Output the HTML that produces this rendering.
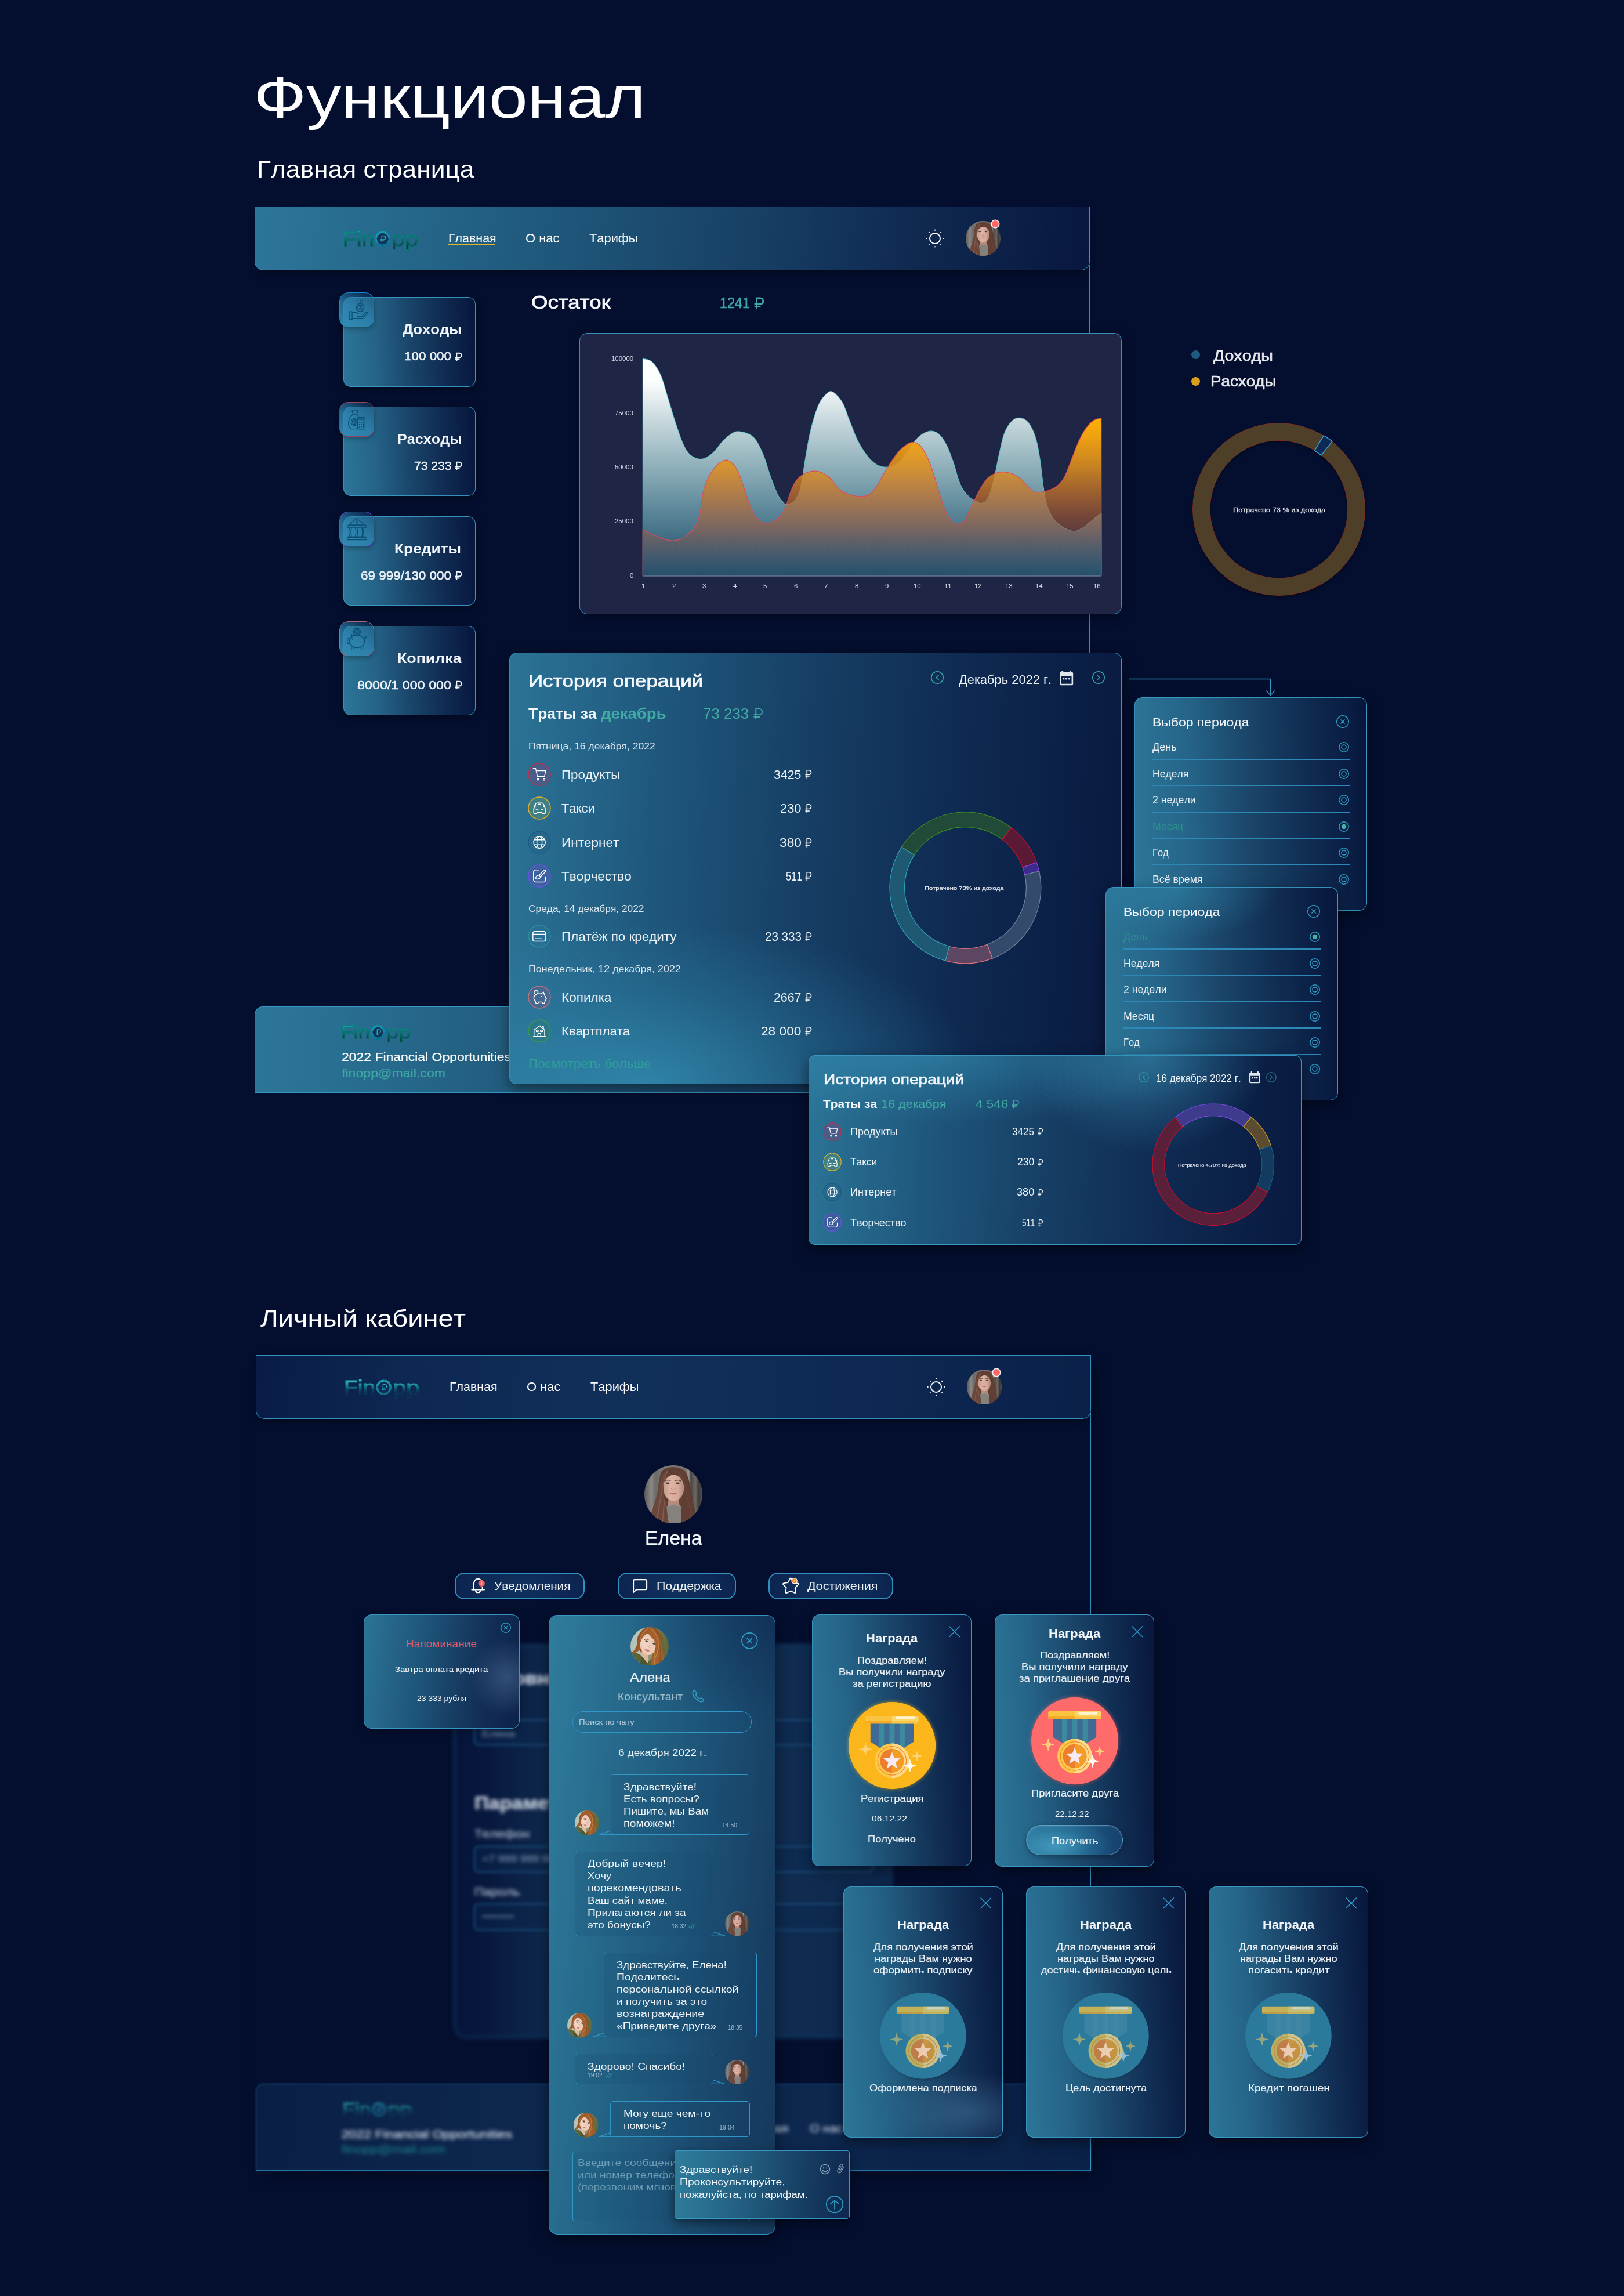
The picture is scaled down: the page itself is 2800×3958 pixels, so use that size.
<!DOCTYPE html>
<html lang="ru"><head><meta charset="utf-8"><title>FinOpp</title><style>
html,body{margin:0;padding:0}
body{background:#040f2f;font-family:"Liberation Sans",sans-serif;width:2800px;height:3958px}
#page{position:relative;width:2800px;height:3958px;overflow:hidden;background:#040f2f}
.t{position:absolute;white-space:nowrap;transform-origin:0 0;display:block;font-kerning:none;letter-spacing:0}
svg{overflow:visible}
</style></head>
<body>
<div id="page">
<span class="t" style="left:436.5px;top:116.7px;font-size:102px;line-height:102px;color:#fff;transform:scaleX(1.1773);">Функционал</span>
<span class="t" style="left:443.0px;top:272.1px;font-size:41px;line-height:41px;color:#fff;transform:scaleX(1.0809);">Главная страница</span>
<div style="position:absolute;left:439.0px;top:456.0px;width:1.0px;height:1279.0px;background:#3391bd;"></div>
<div style="position:absolute;left:1878.0px;top:456.0px;width:1.0px;height:1279.0px;background:#3391bd;"></div>
<div style="position:absolute;left:844.0px;top:456.0px;width:1.0px;height:1279.0px;background:#3391bd;"></div>
<div style="position:absolute;left:439.0px;top:1735.0px;width:1440.0px;height:149.3px;box-sizing:border-box;border:1px solid rgba(58,156,200,0.9);border-radius:14px 14px 0 0;background:linear-gradient(95deg,#2c769a 0%,#276c8f 14%,#225c7e 30%,#1a4569 55%,#102a52 80%,#08173f 100%);"></div>
<span class="t" style="left:588.4px;top:1764.0px;font-size:31.80px;line-height:31.80px;background:linear-gradient(#10a29e 14%,#0b7673 48%,#053a3c 88%);-webkit-background-clip:text;background-clip:text;color:transparent;-webkit-text-stroke:0.95px rgba(10,112,110,0.9);transform:scaleX(1.125)">Fin</span>
<span class="t" style="left:665.7px;top:1764.0px;font-size:31.80px;line-height:31.80px;background:linear-gradient(#10a29e 14%,#0b7673 48%,#053a3c 88%);-webkit-background-clip:text;background-clip:text;color:transparent;-webkit-text-stroke:0.95px rgba(10,112,110,0.9);transform:scaleX(1.205)">pp</span>
<svg style="position:absolute;left:639.0px;top:1766.8px;" width="25.1" height="25.1" viewBox="0 0 28 28"><defs><radialGradient id="cg1" cx="0.45" cy="0.3" r="0.8"><stop offset="0" stop-color="#14b2c6"/><stop offset="0.65" stop-color="#0c8aa8"/><stop offset="1" stop-color="#075c82"/></radialGradient></defs><circle cx="14.0" cy="14.0" r="13.6" fill="url(#cg1)"/><path d="M14.51,4.21L14.72,0.30" stroke="#075c82" stroke-width="0.7"/><path d="M21.28,7.44L24.20,4.82" stroke="#075c82" stroke-width="0.7"/><path d="M23.79,14.51L27.70,14.72" stroke="#075c82" stroke-width="0.7"/><path d="M20.56,21.28L23.18,24.20" stroke="#075c82" stroke-width="0.7"/><path d="M13.49,23.79L13.28,27.70" stroke="#075c82" stroke-width="0.7"/><path d="M6.72,20.56L3.80,23.18" stroke="#075c82" stroke-width="0.7"/><path d="M4.21,13.49L0.30,13.28" stroke="#075c82" stroke-width="0.7"/><path d="M7.44,6.72L4.82,3.80" stroke="#075c82" stroke-width="0.7"/><circle cx="14.0" cy="14.0" r="10.08" fill="#14325a"/><g transform="translate(10.0,8.4) scale(0.76)" fill="none" stroke="#1cb8b2" stroke-width="1.9" stroke-linejoin="round"><path d="M3.4,14.6 V0.7 H8 A4.1,4.1 0 0 1 8,8.9 H0.4"/><path d="M0.4,11.9 H8.8"/></g></svg>
<span class="t" style="left:588.6px;top:1811.6px;font-size:20.5px;line-height:20.5px;color:#fff;transform:scaleX(1.1189);-webkit-text-stroke:0.23px #fff;">2022 Financial Opportunities</span>
<span class="t" style="left:588.6px;top:1839.7px;font-size:20.5px;line-height:20.5px;color:#3fa8a4;transform:scaleX(1.1281);-webkit-text-stroke:0.23px #3fa8a4;">finopp@mail.com</span>
<div style="position:absolute;left:439.0px;top:356.0px;width:1440.0px;height:110.0px;box-sizing:border-box;border:1px solid rgba(58,156,200,0.9);border-radius:0 0 15px 15px;background:linear-gradient(97deg,#2c769a 0%,#266a8d 15%,#1f587b 35%,#184166 58%,#0f2850 80%,#08173f 100%);box-shadow:0 12px 16px -8px rgba(0,0,0,0.45);"></div>
<span class="t" style="left:590.7px;top:394.5px;font-size:34.66px;line-height:34.66px;background:linear-gradient(#10a29e 14%,#0b7673 48%,#053a3c 88%);-webkit-background-clip:text;background-clip:text;color:transparent;-webkit-text-stroke:1.04px rgba(10,112,110,0.9);transform:scaleX(1.125)">Fin</span>
<span class="t" style="left:674.9px;top:394.5px;font-size:34.66px;line-height:34.66px;background:linear-gradient(#10a29e 14%,#0b7673 48%,#053a3c 88%);-webkit-background-clip:text;background-clip:text;color:transparent;-webkit-text-stroke:1.04px rgba(10,112,110,0.9);transform:scaleX(1.205)">pp</span>
<svg style="position:absolute;left:645.9px;top:397.5px;" width="27.4" height="27.4" viewBox="0 0 28 28"><defs><radialGradient id="cg2" cx="0.45" cy="0.3" r="0.8"><stop offset="0" stop-color="#14b2c6"/><stop offset="0.65" stop-color="#0c8aa8"/><stop offset="1" stop-color="#075c82"/></radialGradient></defs><circle cx="14.0" cy="14.0" r="13.6" fill="url(#cg2)"/><path d="M14.51,4.21L14.72,0.30" stroke="#075c82" stroke-width="0.7"/><path d="M21.28,7.44L24.20,4.82" stroke="#075c82" stroke-width="0.7"/><path d="M23.79,14.51L27.70,14.72" stroke="#075c82" stroke-width="0.7"/><path d="M20.56,21.28L23.18,24.20" stroke="#075c82" stroke-width="0.7"/><path d="M13.49,23.79L13.28,27.70" stroke="#075c82" stroke-width="0.7"/><path d="M6.72,20.56L3.80,23.18" stroke="#075c82" stroke-width="0.7"/><path d="M4.21,13.49L0.30,13.28" stroke="#075c82" stroke-width="0.7"/><path d="M7.44,6.72L4.82,3.80" stroke="#075c82" stroke-width="0.7"/><circle cx="14.0" cy="14.0" r="10.08" fill="#14325a"/><g transform="translate(10.0,8.4) scale(0.76)" fill="none" stroke="#1cb8b2" stroke-width="1.9" stroke-linejoin="round"><path d="M3.4,14.6 V0.7 H8 A4.1,4.1 0 0 1 8,8.9 H0.4"/><path d="M0.4,11.9 H8.8"/></g></svg>
<span class="t" style="left:772.5px;top:400.9px;font-size:21.5px;line-height:21.5px;color:#fff;transform:scaleX(0.9959);">Главная</span>
<div style="position:absolute;left:772.5px;top:420.6px;width:81.5px;height:2.2px;background:#e8b429;"></div>
<span class="t" style="left:905.5px;top:400.9px;font-size:21.5px;line-height:21.5px;color:#fff;transform:scaleX(1.0213);">О нас</span>
<span class="t" style="left:1015.5px;top:400.9px;font-size:21.5px;line-height:21.5px;color:#fff;transform:scaleX(1.0156);">Тарифы</span>
<svg style="position:absolute;left:1592.0px;top:391.0px;" width="40.0" height="40.0" viewBox="0 0 40.0 40.0"><circle cx="20" cy="20" r="9" fill="none" stroke="#fff" stroke-width="2"/><circle cx="20.00" cy="5.70" r="1.1" fill="#fff"/><circle cx="30.11" cy="9.89" r="1.1" fill="#fff"/><circle cx="34.30" cy="20.00" r="1.1" fill="#fff"/><circle cx="30.11" cy="30.11" r="1.1" fill="#fff"/><circle cx="20.00" cy="34.30" r="1.1" fill="#fff"/><circle cx="9.89" cy="30.11" r="1.1" fill="#fff"/><circle cx="5.70" cy="20.00" r="1.1" fill="#fff"/><circle cx="9.89" cy="9.89" r="1.1" fill="#fff"/></svg>
<svg style="position:absolute;left:1665.2px;top:381.0px;" width="60.0" height="60.0" viewBox="0 0 100 100"><defs><clipPath id="cl3"><circle cx="50" cy="50" r="50"/></clipPath><linearGradient id="bg4" x1="0" x2="1"><stop offset="0" stop-color="#5d5b59"/><stop offset="0.12" stop-color="#8a8886"/><stop offset="0.2" stop-color="#6c6a68"/><stop offset="0.3" stop-color="#7b7977"/><stop offset="0.72" stop-color="#77716d"/><stop offset="0.76" stop-color="#a19e9b"/><stop offset="0.8" stop-color="#4a4644"/><stop offset="0.88" stop-color="#6b6866"/><stop offset="0.94" stop-color="#3c3937"/><stop offset="1" stop-color="#55524f"/></linearGradient><linearGradient id="fg5" x1="0" x2="1"><stop offset="0" stop-color="#c59a8b"/><stop offset="0.35" stop-color="#dcb3a4"/><stop offset="0.7" stop-color="#d6aa9b"/><stop offset="1" stop-color="#b58878"/></linearGradient><linearGradient id="hg6" x1="0" x2="1"><stop offset="0" stop-color="#7a5144"/><stop offset="0.3" stop-color="#5e3c32"/><stop offset="0.7" stop-color="#654135"/><stop offset="1" stop-color="#52322a"/></linearGradient></defs><g clip-path="url(#cl3)"><rect width="100" height="100" fill="url(#bg4)"/><path d="M30,10 C38,1 62,1 70,10 C78,20 80,45 86,72 C89,86 92,100 92,100 L8,100 C10,85 16,70 22,50 C25,35 24,20 30,10 Z" fill="url(#hg6)"/><path d="M42,56 L59,56 L61,74 L40,74 Z" fill="#b88c7d"/><path d="M37,71 C44,66.5 58,66.5 65,71 L72,100 L30,100 Z" fill="#85827e"/><path d="M41,70 C46,67.6 56,67.6 61,70" stroke="#9a9793" stroke-width="1.6" fill="none"/><ellipse cx="50.4" cy="39" rx="18" ry="22.5" fill="url(#fg5)"/><path d="M45,2.5 C36,10 33,24 33,40 C33,51 35,60 38,66 C39,78 40,90 42,100 L8,100 C13,82 20,62 24,46 C26,30 28,11 45,2.5 Z" fill="#6a463b"/><path d="M45,2.5 C58,5 66,16 68,30 C69,42 68,54 64.5,64 C64,76 63.5,90 63,100 L92,100 C88,80 82,60 78,42 C76,25 70,6 45,2.5 Z" fill="#5f3e34"/><path d="M40,10 C33,24 30,44 27,62 C25,76 22,90 20,100" stroke="#8c6152" stroke-width="1.8" fill="none" opacity="0.8"/><path d="M35,60 C33,74 32,88 31,100" stroke="#8f6455" stroke-width="1.6" fill="none" opacity="0.8"/><path d="M60,12 C68,26 72,46 76,64 C79,78 82,90 84,100" stroke="#6f463b" stroke-width="1.6" fill="none" opacity="0.8"/><ellipse cx="40.2" cy="30.8" rx="3.3" ry="1.35" fill="#4a3a36"/><ellipse cx="57.6" cy="30.8" rx="3.3" ry="1.35" fill="#4a3a36"/><path d="M35,27 C38,25.4 42,25.4 45.2,26.6" stroke="#5e4239" stroke-width="1.4" fill="none"/><path d="M52.8,26.6 C56,25.2 60,25.4 63.4,27.2" stroke="#5e4239" stroke-width="1.4" fill="none"/><path d="M46.4,39.4 C48,41.4 52,41.4 53.6,39.4" stroke="#a87868" stroke-width="1.1" fill="none"/><path d="M43.6,48.4 C46.5,47.2 53,47.2 56,48.4 C53,51 46.5,51 43.6,48.4 Z" fill="#b96c64"/></g></svg>
<div style="position:absolute;left:1709.5px;top:380.2px;width:12.2px;height:12.2px;border-radius:50%;background:#ff6969;box-shadow:0 0 0 1.6px rgba(255,255,255,0.95);"></div>
<div style="position:absolute;left:592.0px;top:512.0px;width:228.0px;height:154.6px;box-sizing:border-box;border:1px solid rgba(58,156,200,0.9);border-radius:13px;background:linear-gradient(87deg,#2c7698 0%,#256387 25%,#1a456a 50%,#102b52 75%,#07163d 100%);box-shadow:0 4px 14px rgba(0,0,0,0.4);"></div>
<div style="position:absolute;left:585.0px;top:504.0px;width:60.0px;height:60.0px;box-sizing:border-box;border:1.2px solid #1787d4;border-radius:15px;background:linear-gradient(215deg,rgba(20,70,120,0.25) 0%,rgba(45,135,180,0.75) 55%,rgba(52,140,180,0.92) 100%);box-shadow:0 3px 8px rgba(0,0,0,0.3);"></div>
<svg style="position:absolute;left:598.0px;top:514.0px;" width="40.0" height="40.0" viewBox="0 0 40 40"><g fill="none" stroke="#0c4f76" stroke-width="1.35" stroke-linecap="round" stroke-linejoin="round"><circle cx="23.1" cy="16.2" r="6.8"/><circle cx="23.1" cy="16.2" r="4.2"/><path d="M23.1,13.6 V18.8 M24.6,14.6 C23.6,13.8 21.6,14.2 21.8,15.4 C22,16.6 24.4,16 24.5,17.2 C24.6,18.4 22.4,18.6 21.5,17.8" stroke-width="0.9"/><path d="M19.4,3.4 V7.8 M23.1,2.6 V7.2 M26.8,3.4 V7.8" stroke-dasharray="1.6 1.3"/><path d="M4.2,23.1 H9.1 V36.7 H4.2 Z M10.3,24.3 H16.5 L19.4,27.3 H26.3 C28.2,27.3 28.6,29.2 27.6,30.4 L26.8,31.2 H18.4 M26.9,30.1 L34.6,23.3 L36.2,24.9 L27.3,35.2 H10.3"/></g></svg>
<span class="t" style="left:694.0px;top:557.0px;font-size:23px;line-height:23px;font-weight:bold;color:#f1f5fa;transform:scaleX(1.1179);">Доходы</span>
<svg style="position:absolute;left:783.5px;top:607.5px;" width="12.8" height="14.4" viewBox="0 0 13.4 15"><g fill="none" stroke="#f1f5fa" stroke-width="2.24" stroke-linejoin="round"><path d="M3.4,14.6 V0.7 H8 A4.1,4.1 0 0 1 8,8.9 H0.4"/><path d="M0.4,11.9 H8.8"/></g></svg>
<span class="t" style="left:697.0px;top:605.0px;font-size:19.5px;line-height:19.5px;color:#f1f5fa;transform:scaleX(1.1497);-webkit-text-stroke:0.49px #f1f5fa;">100 000</span>
<div style="position:absolute;left:592.0px;top:700.8px;width:228.0px;height:154.6px;box-sizing:border-box;border:1px solid rgba(58,156,200,0.9);border-radius:13px;background:linear-gradient(87deg,#2c7698 0%,#256387 25%,#1a456a 50%,#102b52 75%,#07163d 100%);box-shadow:0 4px 14px rgba(0,0,0,0.4);"></div>
<div style="position:absolute;left:585.0px;top:692.8px;width:60.0px;height:60.0px;box-sizing:border-box;border:1.2px solid rgba(176,58,84,0.8);border-radius:15px;background:linear-gradient(215deg,rgba(20,70,120,0.25) 0%,rgba(45,135,180,0.75) 55%,rgba(52,140,180,0.92) 100%);box-shadow:0 3px 8px rgba(0,0,0,0.3);"></div>
<svg style="position:absolute;left:598.0px;top:702.8px;" width="40.0" height="40.0" viewBox="0 0 40 40"><g fill="none" stroke="#0c4f76" stroke-width="1.35" stroke-linecap="round" stroke-linejoin="round"><path d="M9,5.6 C9.6,3.2 18.4,3.2 19,5.6 L17,11.8 H10.6 Z"/><path d="M10.6,11.8 C5.4,15 2.7,21 2.7,27 C2.7,33.4 6.4,36.9 12,36.9 C14.8,36.9 17.2,36.2 18.7,34.8 M17,11.8 C18.8,13 20.2,14.6 21,16.2"/><circle cx="13.3" cy="24.6" r="6"/><circle cx="13.3" cy="24.6" r="3.9"/><path d="M13.3,22.2 V27 M14.6,23.2 C13.8,22.5 12,22.8 12.1,23.8 C12.2,24.9 14.4,24.4 14.5,25.5 C14.6,26.5 12.8,26.8 11.9,26.1" stroke-width="0.85"/><rect x="18.7" y="16.2" width="12.6" height="20.7" rx="1.3"/><path d="M20.8,19.6 H29.2" stroke-width="2.2"/><path d="M21.6,25 h0.1 M25,25 h0.1 M28.4,25 h0.1 M21.6,29 h0.1 M25,29 h0.1 M21.6,33 h0.1 M25,33 h0.1" stroke-width="1.9"/><path d="M28.4,28.6 V33.4" stroke-width="1.7"/></g></svg>
<span class="t" style="left:685.0px;top:745.8px;font-size:23px;line-height:23px;font-weight:bold;color:#f1f5fa;transform:scaleX(1.0943);">Расходы</span>
<svg style="position:absolute;left:783.5px;top:796.3px;" width="12.8" height="14.4" viewBox="0 0 13.4 15"><g fill="none" stroke="#f1f5fa" stroke-width="2.24" stroke-linejoin="round"><path d="M3.4,14.6 V0.7 H8 A4.1,4.1 0 0 1 8,8.9 H0.4"/><path d="M0.4,11.9 H8.8"/></g></svg>
<span class="t" style="left:713.5px;top:793.8px;font-size:19.5px;line-height:19.5px;color:#f1f5fa;transform:scaleX(1.0821);-webkit-text-stroke:0.49px #f1f5fa;">73 233</span>
<div style="position:absolute;left:592.0px;top:889.8px;width:228.0px;height:154.6px;box-sizing:border-box;border:1px solid rgba(58,156,200,0.9);border-radius:13px;background:linear-gradient(87deg,#2c7698 0%,#256387 25%,#1a456a 50%,#102b52 75%,#07163d 100%);box-shadow:0 4px 14px rgba(0,0,0,0.4);"></div>
<div style="position:absolute;left:585.0px;top:881.8px;width:60.0px;height:60.0px;box-sizing:border-box;border:1.2px solid #6a4cd0;border-radius:15px;background:linear-gradient(215deg,rgba(20,70,120,0.25) 0%,rgba(45,135,180,0.75) 55%,rgba(52,140,180,0.92) 100%);box-shadow:0 3px 8px rgba(0,0,0,0.3);"></div>
<svg style="position:absolute;left:598.0px;top:891.8px;" width="40.0" height="40.0" viewBox="0 0 40 40"><g fill="none" stroke="#0c4f76" stroke-width="1.35" stroke-linecap="round" stroke-linejoin="round"><path d="M3.3,13 L17,1.6 L30.8,13 Z"/><path d="M17,4.8 V10.6 M18.4,6 C17.6,5.2 15.7,5.6 15.8,6.7 C15.9,7.9 18.2,7.4 18.3,8.6 C18.4,9.7 16.4,10 15.5,9.2" stroke-width="0.85"/><rect x="0.9" y="13.6" width="32.3" height="4.2" rx="0.8"/><path d="M4.6,17.8 C5.6,22 5.6,29 4.6,33.1 M8,17.8 C7,22 7,29 8,33.1 M14.6,17.8 C15.8,22 15.8,29 14.6,33.1 M19.5,17.8 C18.3,22 18.3,29 19.5,33.1 M26,17.8 C27,22 27,29 26,33.1 M29.6,17.8 C28.6,22 28.6,29 29.6,33.1"/><path d="M2.1,33.1 H32 V34.9 H2.1 Z"/><rect x="0.3" y="34.9" width="33.5" height="3.7" rx="0.8"/></g></svg>
<span class="t" style="left:680.0px;top:934.8px;font-size:23px;line-height:23px;font-weight:bold;color:#f1f5fa;transform:scaleX(1.1440);">Кредиты</span>
<svg style="position:absolute;left:783.5px;top:985.3px;" width="12.8" height="14.4" viewBox="0 0 13.4 15"><g fill="none" stroke="#f1f5fa" stroke-width="2.24" stroke-linejoin="round"><path d="M3.4,14.6 V0.7 H8 A4.1,4.1 0 0 1 8,8.9 H0.4"/><path d="M0.4,11.9 H8.8"/></g></svg>
<span class="t" style="left:622.0px;top:982.8px;font-size:19.5px;line-height:19.5px;color:#f1f5fa;transform:scaleX(1.1512);-webkit-text-stroke:0.49px #f1f5fa;">69 999/130 000</span>
<div style="position:absolute;left:592.0px;top:1078.8px;width:228.0px;height:154.6px;box-sizing:border-box;border:1px solid rgba(58,156,200,0.9);border-radius:13px;background:linear-gradient(87deg,#2c7698 0%,#256387 25%,#1a456a 50%,#102b52 75%,#07163d 100%);box-shadow:0 4px 14px rgba(0,0,0,0.4);"></div>
<div style="position:absolute;left:585.0px;top:1070.8px;width:60.0px;height:60.0px;box-sizing:border-box;border:1.2px solid #a8687c;border-radius:15px;background:linear-gradient(215deg,rgba(20,70,120,0.25) 0%,rgba(45,135,180,0.75) 55%,rgba(52,140,180,0.92) 100%);box-shadow:0 3px 8px rgba(0,0,0,0.3);"></div>
<svg style="position:absolute;left:598.0px;top:1080.8px;" width="40.0" height="40.0" viewBox="0 0 40 40"><g fill="none" stroke="#0c4f76" stroke-width="1.35" stroke-linecap="round" stroke-linejoin="round"><circle cx="17.4" cy="8.1" r="6.1"/><circle cx="17.4" cy="8.1" r="3.9"/><path d="M17.4,5.8 V10.4 M18.6,6.8 C17.9,6.1 16.2,6.4 16.3,7.4 C16.4,8.4 18.4,8 18.5,9 C18.6,10 16.9,10.2 16.1,9.6" stroke-width="0.8"/><ellipse cx="17.7" cy="24.6" rx="13.1" ry="10.9"/><path d="M13,14.6 H22" stroke-width="1.8"/><path d="M4.9,19.8 H1.6 C0.9,19.8 0.9,20.4 0.9,21 V27 C0.9,27.8 1.2,28.2 1.9,28.2 H5.4"/><path d="M7.2,16.8 L8.8,12.6 L12,14.6"/><path d="M30.2,20.6 C32,19.6 33.4,18.2 33,16 M31.2,19.6 C32,18 31.8,16.8 31,16"/><circle cx="9.6" cy="20.6" r="0.55" fill="#0c4f76"/><path d="M8,33.6 V38.4 M11.6,35 L10.6,38.4 M24,35 L25,38.4 M27.6,33.6 V38.4"/></g></svg>
<span class="t" style="left:684.5px;top:1123.8px;font-size:23px;line-height:23px;font-weight:bold;color:#f1f5fa;transform:scaleX(1.1628);">Копилка</span>
<svg style="position:absolute;left:783.5px;top:1174.3px;" width="12.8" height="14.4" viewBox="0 0 13.4 15"><g fill="none" stroke="#f1f5fa" stroke-width="2.24" stroke-linejoin="round"><path d="M3.4,14.6 V0.7 H8 A4.1,4.1 0 0 1 8,8.9 H0.4"/><path d="M0.4,11.9 H8.8"/></g></svg>
<span class="t" style="left:616.0px;top:1171.8px;font-size:19.5px;line-height:19.5px;color:#f1f5fa;transform:scaleX(1.1955);-webkit-text-stroke:0.49px #f1f5fa;">8000/1 000 000</span>
<span class="t" style="left:915.5px;top:504.7px;font-size:32px;line-height:32px;color:#f4f6fa;transform:scaleX(1.1404);-webkit-text-stroke:0.80px #f4f6fa;">Остаток</span>
<svg style="position:absolute;left:1299.6px;top:512.8px;" width="17.5" height="19.5" viewBox="0 0 13.4 15"><g fill="none" stroke="#3fa8a4" stroke-width="2.24" stroke-linejoin="round"><path d="M3.4,14.6 V0.7 H8 A4.1,4.1 0 0 1 8,8.9 H0.4"/><path d="M0.4,11.9 H8.8"/></g></svg>
<span class="t" style="left:1241.0px;top:509.4px;font-size:26.5px;line-height:26.5px;color:#3fa8a4;transform:scaleX(0.8833);-webkit-text-stroke:0.66px #3fa8a4;">1241</span>
<div style="position:absolute;left:999.4px;top:574.4px;width:934.3px;height:484.2px;box-sizing:border-box;border:1px solid rgba(58,156,200,0.9);border-radius:14px;background:#1e2545;box-shadow:0 6px 18px rgba(0,0,0,0.35);"></div>
<svg style="position:absolute;left:999.4px;top:574.4px;" width="934.3" height="484.2" viewBox="0 0 934.3 484.2"><defs><linearGradient id="gb" x1="0" y1="44.6" x2="0" y2="418.4" gradientUnits="userSpaceOnUse"><stop offset="0" stop-color="#ffffff"/><stop offset="0.1" stop-color="#fdfefe"/><stop offset="0.3" stop-color="#c3d5da"/><stop offset="0.5" stop-color="#8eafb9"/><stop offset="0.7" stop-color="#5c8799"/><stop offset="0.85" stop-color="#3b6880"/><stop offset="1" stop-color="#24506c"/></linearGradient><linearGradient id="go" x1="0" y1="146.6" x2="0" y2="418.4" gradientUnits="userSpaceOnUse"><stop offset="0" stop-color="#ffb000" stop-opacity="1"/><stop offset="0.12" stop-color="#f5a510" stop-opacity="0.97"/><stop offset="0.3" stop-color="#e0901c" stop-opacity="0.88"/><stop offset="0.5" stop-color="#c4702a" stop-opacity="0.72"/><stop offset="0.7" stop-color="#a85535" stop-opacity="0.5"/><stop offset="0.88" stop-color="#8a4640" stop-opacity="0.2"/><stop offset="1" stop-color="#7a4045" stop-opacity="0"/></linearGradient></defs><path d="M109.3,418.4L109.3,44.6C111.0,44.9 116.1,45.0 119.4,46.5C122.6,48.0 125.1,48.6 128.8,53.4C132.5,58.2 137.2,64.9 141.4,75.4C145.5,85.9 149.7,102.6 153.9,116.2C158.1,129.8 162.3,144.5 166.5,157.1C170.7,169.6 174.9,182.7 179.0,191.6C183.2,200.5 186.4,206.2 191.6,210.4C196.8,214.7 204.2,217.9 210.4,217.4C216.7,216.8 223.0,212.6 229.3,207.3C235.6,202.0 242.4,191.1 248.1,185.3C253.9,179.6 259.4,175.3 263.8,172.8C268.3,170.2 270.1,169.7 274.8,169.9C279.5,170.2 287.1,171.8 292.1,174.3C297.1,176.9 300.5,179.3 304.7,185.3C308.9,191.3 313.0,200.0 317.2,210.4C321.4,220.9 325.6,236.6 329.8,248.1C334.0,259.7 338.7,272.2 342.4,279.5C346.0,286.9 349.4,289.5 351.8,292.1C354.1,294.7 353.9,295.2 356.5,295.2C359.1,295.2 364.1,294.7 367.5,292.1C370.9,289.5 374.3,285.3 376.9,279.5C379.5,273.8 381.1,268.0 383.2,257.6C385.3,247.1 386.9,231.9 389.5,216.7C392.1,201.6 395.2,181.7 398.9,166.5C402.6,151.3 407.3,135.6 411.5,125.7C415.6,115.7 419.9,110.9 424.0,106.8C428.1,102.7 431.1,99.1 436.0,101.2C440.8,103.2 448.2,111.1 453.2,119.4C458.1,127.6 461.5,140.3 465.7,150.8C469.9,161.2 474.1,173.3 478.3,182.2C482.5,191.1 486.7,197.9 490.9,204.2C495.0,210.4 499.2,215.8 503.4,219.9C507.6,224.0 511.8,226.8 516.0,228.7C520.2,230.5 524.4,231.2 528.5,231.2C532.7,231.2 536.9,230.5 541.1,228.7C545.3,226.8 549.5,224.0 553.7,219.9C557.9,215.8 562.0,209.9 566.2,204.2C570.4,198.4 574.6,190.3 578.8,185.3C583.0,180.4 586.8,177.1 591.4,174.3C595.9,171.6 601.4,169.0 606.1,169.0C610.8,169.0 615.3,170.6 619.6,174.3C624.0,178.1 628.0,183.5 632.2,191.6C636.4,199.7 641.1,212.5 644.7,223.0C648.4,233.5 651.0,246.0 654.2,254.4C657.3,262.8 659.9,268.0 663.6,273.3C667.3,278.5 672.0,282.6 676.2,285.8C680.3,289.1 685.8,291.5 688.7,292.7C691.6,294.0 691.3,294.0 693.4,293.4C695.5,292.7 698.7,292.3 701.3,289.0C703.9,285.6 706.5,281.1 709.1,273.3C711.7,265.4 714.6,252.3 717.0,241.9C719.3,231.4 720.6,222.0 723.3,210.4C725.9,198.9 729.0,182.4 732.7,172.8C736.3,163.1 740.9,156.7 745.2,152.3C749.6,147.9 754.0,146.1 758.8,146.4C763.5,146.6 769.0,148.5 773.5,153.9C778.1,159.4 782.7,168.6 786.1,179.0C789.5,189.5 791.6,202.1 793.9,216.7C796.3,231.4 798.1,253.4 800.2,267.0C802.3,280.6 803.6,289.5 806.5,298.4C809.4,307.3 813.0,314.4 817.5,320.4C821.9,326.4 827.4,330.9 833.2,334.5C838.9,338.1 846.3,341.5 852.0,341.7C857.8,342.0 862.5,339.1 867.7,336.1C873.0,333.0 878.1,327.8 883.4,323.5C888.8,319.2 897.1,312.5 899.8,310.3L899.8,418.4Z" fill="url(#gb)"/><path d="M109.3,418.4L109.3,44.6C111.0,44.9 116.1,45.0 119.4,46.5C122.6,48.0 125.1,48.6 128.8,53.4C132.5,58.2 137.2,64.9 141.4,75.4C145.5,85.9 149.7,102.6 153.9,116.2C158.1,129.8 162.3,144.5 166.5,157.1C170.7,169.6 174.9,182.7 179.0,191.6C183.2,200.5 186.4,206.2 191.6,210.4C196.8,214.7 204.2,217.9 210.4,217.4C216.7,216.8 223.0,212.6 229.3,207.3C235.6,202.0 242.4,191.1 248.1,185.3C253.9,179.6 259.4,175.3 263.8,172.8C268.3,170.2 270.1,169.7 274.8,169.9C279.5,170.2 287.1,171.8 292.1,174.3C297.1,176.9 300.5,179.3 304.7,185.3C308.9,191.3 313.0,200.0 317.2,210.4C321.4,220.9 325.6,236.6 329.8,248.1C334.0,259.7 338.7,272.2 342.4,279.5C346.0,286.9 349.4,289.5 351.8,292.1C354.1,294.7 353.9,295.2 356.5,295.2C359.1,295.2 364.1,294.7 367.5,292.1C370.9,289.5 374.3,285.3 376.9,279.5C379.5,273.8 381.1,268.0 383.2,257.6C385.3,247.1 386.9,231.9 389.5,216.7C392.1,201.6 395.2,181.7 398.9,166.5C402.6,151.3 407.3,135.6 411.5,125.7C415.6,115.7 419.9,110.9 424.0,106.8C428.1,102.7 431.1,99.1 436.0,101.2C440.8,103.2 448.2,111.1 453.2,119.4C458.1,127.6 461.5,140.3 465.7,150.8C469.9,161.2 474.1,173.3 478.3,182.2C482.5,191.1 486.7,197.9 490.9,204.2C495.0,210.4 499.2,215.8 503.4,219.9C507.6,224.0 511.8,226.8 516.0,228.7C520.2,230.5 524.4,231.2 528.5,231.2C532.7,231.2 536.9,230.5 541.1,228.7C545.3,226.8 549.5,224.0 553.7,219.9C557.9,215.8 562.0,209.9 566.2,204.2C570.4,198.4 574.6,190.3 578.8,185.3C583.0,180.4 586.8,177.1 591.4,174.3C595.9,171.6 601.4,169.0 606.1,169.0C610.8,169.0 615.3,170.6 619.6,174.3C624.0,178.1 628.0,183.5 632.2,191.6C636.4,199.7 641.1,212.5 644.7,223.0C648.4,233.5 651.0,246.0 654.2,254.4C657.3,262.8 659.9,268.0 663.6,273.3C667.3,278.5 672.0,282.6 676.2,285.8C680.3,289.1 685.8,291.5 688.7,292.7C691.6,294.0 691.3,294.0 693.4,293.4C695.5,292.7 698.7,292.3 701.3,289.0C703.9,285.6 706.5,281.1 709.1,273.3C711.7,265.4 714.6,252.3 717.0,241.9C719.3,231.4 720.6,222.0 723.3,210.4C725.9,198.9 729.0,182.4 732.7,172.8C736.3,163.1 740.9,156.7 745.2,152.3C749.6,147.9 754.0,146.1 758.8,146.4C763.5,146.6 769.0,148.5 773.5,153.9C778.1,159.4 782.7,168.6 786.1,179.0C789.5,189.5 791.6,202.1 793.9,216.7C796.3,231.4 798.1,253.4 800.2,267.0C802.3,280.6 803.6,289.5 806.5,298.4C809.4,307.3 813.0,314.4 817.5,320.4C821.9,326.4 827.4,330.9 833.2,334.5C838.9,338.1 846.3,341.5 852.0,341.7C857.8,342.0 862.5,339.1 867.7,336.1C873.0,333.0 878.1,327.8 883.4,323.5C888.8,319.2 897.1,312.5 899.8,310.3L899.8,418.4" fill="none" stroke="#57c4c6" stroke-width="1"/><path d="M109.3,418.4L109.3,339.2C112.5,340.8 122.4,345.9 128.8,348.6C135.2,351.4 142.4,354.3 147.6,355.9C152.9,357.4 156.0,358.1 160.2,358.1C164.4,358.1 168.6,357.4 172.8,355.9C176.9,354.3 181.1,351.9 185.3,348.6C189.5,345.3 194.2,341.8 197.9,336.1C201.6,330.3 204.7,324.6 207.3,314.1C209.9,303.6 211.0,284.3 213.6,273.3C216.2,262.3 219.3,255.5 223.0,248.1C226.7,240.8 230.9,234.1 235.6,229.3C240.3,224.5 246.6,220.0 251.3,219.2C256.0,218.5 260.2,221.3 263.8,224.6C267.5,227.8 270.1,232.2 273.3,238.7C276.4,245.3 279.5,254.9 282.7,263.8C285.8,272.7 289.0,283.7 292.1,292.1C295.2,300.5 298.4,308.8 301.5,314.1C304.7,319.4 307.5,321.8 311.0,324.1C314.4,326.5 317.8,328.2 321.9,328.2C326.1,328.2 332.2,326.0 336.1,324.1C340.0,322.3 342.4,321.0 345.5,317.2C348.6,313.5 351.8,308.9 354.9,301.5C358.1,294.2 361.2,281.1 364.3,273.3C367.5,265.4 370.1,259.4 373.8,254.4C377.4,249.4 381.2,246.1 386.3,243.4C391.5,240.7 398.8,238.3 404.5,238.1C410.3,237.8 416.1,239.7 420.9,241.9C425.7,244.1 430.2,248.0 433.4,251.3C436.7,254.5 437.3,257.7 440.6,261.3C443.9,265.0 448.5,270.2 453.2,273.3C457.9,276.3 463.4,278.1 468.9,279.5C474.4,281.0 480.9,282.0 486.1,281.7C491.4,281.5 495.8,281.0 500.3,278.0C504.7,275.0 508.6,269.9 512.8,263.8C517.0,257.8 521.2,248.9 525.4,241.9C529.6,234.8 533.8,227.7 538.0,221.4C542.1,215.2 546.3,208.9 550.5,204.2C554.7,199.5 559.0,195.8 563.1,193.2C567.2,190.6 570.8,188.2 575.0,188.5C579.2,188.7 583.9,190.0 588.2,194.7C592.5,199.5 597.1,208.9 600.8,216.7C604.4,224.6 607.1,232.4 610.2,241.9C613.3,251.3 616.5,263.3 619.6,273.3C622.8,283.2 625.9,293.7 629.0,301.5C632.2,309.4 634.5,315.6 638.5,320.4C642.4,325.1 648.4,329.6 652.6,330.1C656.8,330.6 660.2,327.8 663.6,323.5C667.0,319.3 669.9,311.0 673.0,304.7C676.2,298.4 679.3,292.1 682.4,285.8C685.6,279.5 688.2,273.0 691.9,267.0C695.5,261.0 700.2,253.9 704.4,249.7C708.6,245.5 712.5,243.5 717.0,241.9C721.4,240.2 725.9,239.4 731.1,239.7C736.3,239.9 743.4,241.5 748.4,243.4C753.4,245.4 756.8,247.6 761.0,251.3C765.1,254.9 769.9,261.7 773.5,265.4C777.2,269.1 779.8,271.7 782.9,273.3C786.1,274.8 788.2,275.1 792.4,274.8C796.5,274.6 802.8,273.5 808.1,271.7C813.3,269.9 819.1,267.8 823.8,263.8C828.5,259.9 832.1,256.0 836.3,248.1C840.5,240.3 844.7,227.2 848.9,216.7C853.1,206.3 857.3,194.2 861.5,185.3C865.6,176.4 869.8,169.1 874.0,163.3C878.2,157.6 882.3,153.6 886.6,150.8C890.9,148.0 897.6,147.4 899.8,146.7L899.8,418.4Z" fill="url(#go)"/><path d="M109.3,418.4L109.3,339.2C112.5,340.8 122.4,345.9 128.8,348.6C135.2,351.4 142.4,354.3 147.6,355.9C152.9,357.4 156.0,358.1 160.2,358.1C164.4,358.1 168.6,357.4 172.8,355.9C176.9,354.3 181.1,351.9 185.3,348.6C189.5,345.3 194.2,341.8 197.9,336.1C201.6,330.3 204.7,324.6 207.3,314.1C209.9,303.6 211.0,284.3 213.6,273.3C216.2,262.3 219.3,255.5 223.0,248.1C226.7,240.8 230.9,234.1 235.6,229.3C240.3,224.5 246.6,220.0 251.3,219.2C256.0,218.5 260.2,221.3 263.8,224.6C267.5,227.8 270.1,232.2 273.3,238.7C276.4,245.3 279.5,254.9 282.7,263.8C285.8,272.7 289.0,283.7 292.1,292.1C295.2,300.5 298.4,308.8 301.5,314.1C304.7,319.4 307.5,321.8 311.0,324.1C314.4,326.5 317.8,328.2 321.9,328.2C326.1,328.2 332.2,326.0 336.1,324.1C340.0,322.3 342.4,321.0 345.5,317.2C348.6,313.5 351.8,308.9 354.9,301.5C358.1,294.2 361.2,281.1 364.3,273.3C367.5,265.4 370.1,259.4 373.8,254.4C377.4,249.4 381.2,246.1 386.3,243.4C391.5,240.7 398.8,238.3 404.5,238.1C410.3,237.8 416.1,239.7 420.9,241.9C425.7,244.1 430.2,248.0 433.4,251.3C436.7,254.5 437.3,257.7 440.6,261.3C443.9,265.0 448.5,270.2 453.2,273.3C457.9,276.3 463.4,278.1 468.9,279.5C474.4,281.0 480.9,282.0 486.1,281.7C491.4,281.5 495.8,281.0 500.3,278.0C504.7,275.0 508.6,269.9 512.8,263.8C517.0,257.8 521.2,248.9 525.4,241.9C529.6,234.8 533.8,227.7 538.0,221.4C542.1,215.2 546.3,208.9 550.5,204.2C554.7,199.5 559.0,195.8 563.1,193.2C567.2,190.6 570.8,188.2 575.0,188.5C579.2,188.7 583.9,190.0 588.2,194.7C592.5,199.5 597.1,208.9 600.8,216.7C604.4,224.6 607.1,232.4 610.2,241.9C613.3,251.3 616.5,263.3 619.6,273.3C622.8,283.2 625.9,293.7 629.0,301.5C632.2,309.4 634.5,315.6 638.5,320.4C642.4,325.1 648.4,329.6 652.6,330.1C656.8,330.6 660.2,327.8 663.6,323.5C667.0,319.3 669.9,311.0 673.0,304.7C676.2,298.4 679.3,292.1 682.4,285.8C685.6,279.5 688.2,273.0 691.9,267.0C695.5,261.0 700.2,253.9 704.4,249.7C708.6,245.5 712.5,243.5 717.0,241.9C721.4,240.2 725.9,239.4 731.1,239.7C736.3,239.9 743.4,241.5 748.4,243.4C753.4,245.4 756.8,247.6 761.0,251.3C765.1,254.9 769.9,261.7 773.5,265.4C777.2,269.1 779.8,271.7 782.9,273.3C786.1,274.8 788.2,275.1 792.4,274.8C796.5,274.6 802.8,273.5 808.1,271.7C813.3,269.9 819.1,267.8 823.8,263.8C828.5,259.9 832.1,256.0 836.3,248.1C840.5,240.3 844.7,227.2 848.9,216.7C853.1,206.3 857.3,194.2 861.5,185.3C865.6,176.4 869.8,169.1 874.0,163.3C878.2,157.6 882.3,153.6 886.6,150.8C890.9,148.0 897.6,147.4 899.8,146.7L899.8,418.4" fill="none" stroke="#e0475c" stroke-width="1.1"/><path d="M109.3,419.0H899.8" stroke="#8d9bb8" stroke-width="1"/></svg>
<span class="t" style="left:1085.6px;top:986.9px;font-size:11px;line-height:11px;color:#d7dbe6;transform:scaleX(1.0400);">0</span>
<span class="t" style="left:1060.2px;top:893.4px;font-size:11px;line-height:11px;color:#d7dbe6;transform:scaleX(1.0400);">25000</span>
<span class="t" style="left:1060.2px;top:800.0px;font-size:11px;line-height:11px;color:#d7dbe6;transform:scaleX(1.0400);">50000</span>
<span class="t" style="left:1060.2px;top:706.5px;font-size:11px;line-height:11px;color:#d7dbe6;transform:scaleX(1.0400);">75000</span>
<span class="t" style="left:1053.8px;top:613.1px;font-size:11px;line-height:11px;color:#d7dbe6;transform:scaleX(1.0400);">100000</span>
<span class="t" style="left:1106.1px;top:1004.7px;font-size:11px;line-height:11px;color:#d7dbe6;transform:scaleX(1.0400);">1</span>
<span class="t" style="left:1158.6px;top:1004.7px;font-size:11px;line-height:11px;color:#d7dbe6;transform:scaleX(1.0400);">2</span>
<span class="t" style="left:1211.1px;top:1004.7px;font-size:11px;line-height:11px;color:#d7dbe6;transform:scaleX(1.0400);">3</span>
<span class="t" style="left:1263.6px;top:1004.7px;font-size:11px;line-height:11px;color:#d7dbe6;transform:scaleX(1.0400);">4</span>
<span class="t" style="left:1316.1px;top:1004.7px;font-size:11px;line-height:11px;color:#d7dbe6;transform:scaleX(1.0400);">5</span>
<span class="t" style="left:1368.6px;top:1004.7px;font-size:11px;line-height:11px;color:#d7dbe6;transform:scaleX(1.0400);">6</span>
<span class="t" style="left:1421.1px;top:1004.7px;font-size:11px;line-height:11px;color:#d7dbe6;transform:scaleX(1.0400);">7</span>
<span class="t" style="left:1473.6px;top:1004.7px;font-size:11px;line-height:11px;color:#d7dbe6;transform:scaleX(1.0400);">8</span>
<span class="t" style="left:1526.1px;top:1004.7px;font-size:11px;line-height:11px;color:#d7dbe6;transform:scaleX(1.0400);">9</span>
<span class="t" style="left:1575.4px;top:1004.7px;font-size:11px;line-height:11px;color:#d7dbe6;transform:scaleX(1.0400);">10</span>
<span class="t" style="left:1628.4px;top:1004.7px;font-size:11px;line-height:11px;color:#d7dbe6;transform:scaleX(1.0400);">11</span>
<span class="t" style="left:1680.4px;top:1004.7px;font-size:11px;line-height:11px;color:#d7dbe6;transform:scaleX(1.0400);">12</span>
<span class="t" style="left:1732.9px;top:1004.7px;font-size:11px;line-height:11px;color:#d7dbe6;transform:scaleX(1.0400);">13</span>
<span class="t" style="left:1785.4px;top:1004.7px;font-size:11px;line-height:11px;color:#d7dbe6;transform:scaleX(1.0400);">14</span>
<span class="t" style="left:1837.9px;top:1004.7px;font-size:11px;line-height:11px;color:#d7dbe6;transform:scaleX(1.0400);">15</span>
<span class="t" style="left:1884.9px;top:1004.7px;font-size:11px;line-height:11px;color:#d7dbe6;transform:scaleX(1.0400);">16</span>
<div style="position:absolute;left:2053.7px;top:604.1px;width:15.4px;height:15.4px;border-radius:50%;background:#1f5b80;"></div>
<span class="t" style="left:2091.5px;top:600.6px;font-size:25px;line-height:25px;color:#e9e9ee;transform:scaleX(1.1465);-webkit-text-stroke:0.62px #e9e9ee;">Доходы</span>
<div style="position:absolute;left:2053.7px;top:649.7px;width:15.4px;height:15.4px;border-radius:50%;background:#d9a01e;"></div>
<span class="t" style="left:2086.5px;top:645.2px;font-size:25px;line-height:25px;color:#e9e9ee;transform:scaleX(1.1108);-webkit-text-stroke:0.62px #e9e9ee;">Расходы</span>
<svg style="position:absolute;left:2045.3px;top:718.4px;" width="320.0" height="320.0" viewBox="0 0 320.0 320.0"><defs><filter id="dsh" x="-20%" y="-20%" width="140%" height="140%"><feGaussianBlur stdDeviation="3"/></filter></defs><circle cx="160.0" cy="164.0" r="133.6" fill="none" stroke="#000" stroke-opacity="0.35" stroke-width="29.6" filter="url(#dsh)"/><circle cx="160.0" cy="160.0" r="133.6" fill="none" stroke="#4e3f28" stroke-width="29.6"/><circle cx="160.0" cy="160.0" r="148.4" fill="none" stroke="#7d2f22" stroke-width="1"/><circle cx="160.0" cy="160.0" r="118.8" fill="none" stroke="#7d2f22" stroke-width="1"/><path d="M237.36,32.77A148.9,148.9 0 0 1 251.88,42.83L233.00,66.91A118.3,118.3 0 0 0 221.46,58.92Z" fill="#0f2a57" stroke="#35a5dc" stroke-width="1.4"/></svg>
<span class="t" style="left:2126.4px;top:874.0px;font-size:11.5px;line-height:11.5px;color:#e3e4ea;transform:scaleX(1.1087);-webkit-text-stroke:0.29px #e3e4ea;">Потрачено 73 % из дохода</span>
<div style="position:absolute;left:877.7px;top:1124.8px;width:1056.0px;height:744.0px;box-sizing:border-box;border:1px solid rgba(58,156,200,0.9);border-radius:13px;background:radial-gradient(ellipse 55% 38% at 22% 100%,rgba(52,146,182,0.75) 0%,rgba(46,132,170,0.35) 55%,rgba(40,120,160,0) 100%),linear-gradient(93deg,#2b7496 0%,#25668a 12%,#1f567b 25%,#1a496e 38%,#163d63 50%,#0e2850 75%,#09193f 100%);box-shadow:0 8px 24px rgba(0,0,0,0.45);"></div>
<span class="t" style="left:911.4px;top:1158.7px;font-size:29.6px;line-height:29.6px;color:#f3f6fa;transform:scaleX(1.1808);-webkit-text-stroke:0.74px #f3f6fa;">История операций</span>
<span class="t" style="left:910.7px;top:1218.0px;font-size:25.5px;line-height:25.5px;font-weight:bold;color:#f3f6fa;transform:scaleX(1.0362);">Траты за</span>
<span class="t" style="left:1035.7px;top:1218.0px;font-size:25.5px;line-height:25.5px;font-weight:bold;color:#41aaa4;transform:scaleX(1.0794);">декабрь</span>
<svg style="position:absolute;left:1299.2px;top:1221.3px;" width="16.8" height="18.8" viewBox="0 0 13.4 15"><g fill="none" stroke="#41aaa4" stroke-width="1.54" stroke-linejoin="round"><path d="M3.4,14.6 V0.7 H8 A4.1,4.1 0 0 1 8,8.9 H0.4"/><path d="M0.4,11.9 H8.8"/></g></svg>
<span class="t" style="left:1212.0px;top:1218.0px;font-size:25.5px;line-height:25.5px;color:#41aaa4;transform:scaleX(1.0156);">73 233</span>
<span class="t" style="left:910.7px;top:1277.9px;font-size:17px;line-height:17px;color:#dbe6ef;transform:scaleX(1.0307);">Пятница, 16 декабря, 2022</span>
<span class="t" style="left:910.7px;top:1557.8px;font-size:17px;line-height:17px;color:#dbe6ef;transform:scaleX(1.0201);">Среда, 14 декабря, 2022</span>
<span class="t" style="left:910.7px;top:1662.1px;font-size:17px;line-height:17px;color:#dbe6ef;transform:scaleX(1.0512);">Понедельник, 12 декабря, 2022</span>
<svg style="position:absolute;left:910.0px;top:1314.6px;" width="40.0" height="40.0" viewBox="0 0 40 40"><circle cx="20" cy="20" r="19" fill="#4a5d88" stroke="#b8324e" stroke-width="1.5"/><g fill="none" stroke="#fff" stroke-width="1.45" stroke-linecap="round" stroke-linejoin="round"><path d="M9.3,9.8 H13.5 L16.6,23.7 H28.8 L30.8,13.5 H14.5"/><circle cx="17.3" cy="28.6" r="1.3"/><circle cx="28" cy="28.6" r="1.3"/></g></svg>
<span class="t" style="left:968.3px;top:1324.6px;font-size:22.0px;line-height:22.0px;color:#eef3f8;transform:scaleX(1.0161);">Продукты</span>
<svg style="position:absolute;left:1388.4px;top:1327.4px;" width="11.0" height="16.2" viewBox="0 0 10.2 15"><g fill="none" stroke="#eef3f8" stroke-width="1.54" stroke-linejoin="round"><path d="M3,14.6 V0.7 H6.2 A3.6,3.6 0 0 1 6.2,7.9 H0.4"/><path d="M0.4,11.2 H7.2"/></g></svg>
<span class="t" style="left:1334.0px;top:1324.6px;font-size:22.0px;line-height:22.0px;color:#eef3f8;transform:scaleX(0.9686);">3425</span>
<svg style="position:absolute;left:910.0px;top:1373.3px;" width="40.0" height="40.0" viewBox="0 0 40 40"><circle cx="20" cy="20" r="19" fill="#3f7f86" stroke="#e2b022" stroke-width="1.5"/><g fill="none" stroke="#fff" stroke-width="1.45" stroke-linecap="round" stroke-linejoin="round"><path d="M11.5,16.6 L14,12 Q15,11.2 16.6,11.2 H23.7 Q25.2,11.2 26.2,12 L28.8,16.6 M10.6,16.6 H13.4 M26.9,16.6 H29.7"/><path d="M13.5,16.1 C11.5,17.6 10.2,19.6 10.2,22.2 V28.8 L11.5,29.8 H14.5 L16.1,27.3 H24.2 L25.7,29.8 H28.8 L30.1,28.8 V22.2 C30.1,19.6 28.8,17.6 26.8,16.1"/><path d="M14,23 H17.6 M22.7,23 H26.2 M18.3,13.3 H22"/></g></svg>
<span class="t" style="left:968.3px;top:1383.3px;font-size:22.0px;line-height:22.0px;color:#eef3f8;transform:scaleX(0.9819);">Такси</span>
<svg style="position:absolute;left:1388.4px;top:1386.1px;" width="11.0" height="16.2" viewBox="0 0 10.2 15"><g fill="none" stroke="#eef3f8" stroke-width="1.54" stroke-linejoin="round"><path d="M3,14.6 V0.7 H6.2 A3.6,3.6 0 0 1 6.2,7.9 H0.4"/><path d="M0.4,11.2 H7.2"/></g></svg>
<span class="t" style="left:1345.0px;top:1383.3px;font-size:22.0px;line-height:22.0px;color:#eef3f8;transform:scaleX(0.9918);">230</span>
<svg style="position:absolute;left:910.0px;top:1431.9px;" width="40.0" height="40.0" viewBox="0 0 40 40"><circle cx="20" cy="20" r="19" fill="rgba(22,70,116,0.12)" stroke="rgba(28,72,116,0.55)" stroke-width="1.5"/><g fill="none" stroke="#fff" stroke-width="1.45" stroke-linecap="round" stroke-linejoin="round"><circle cx="20.1" cy="20" r="10.1"/><ellipse cx="20.1" cy="20" rx="4.6" ry="10.1"/><path d="M11,15.7 H29.2 M11,24.3 H29.2"/></g></svg>
<span class="t" style="left:968.3px;top:1441.9px;font-size:22.0px;line-height:22.0px;color:#eef3f8;transform:scaleX(1.0240);">Интернет</span>
<svg style="position:absolute;left:1388.4px;top:1444.7px;" width="11.0" height="16.2" viewBox="0 0 10.2 15"><g fill="none" stroke="#eef3f8" stroke-width="1.54" stroke-linejoin="round"><path d="M3,14.6 V0.7 H6.2 A3.6,3.6 0 0 1 6.2,7.9 H0.4"/><path d="M0.4,11.2 H7.2"/></g></svg>
<span class="t" style="left:1343.5px;top:1441.9px;font-size:22.0px;line-height:22.0px;color:#eef3f8;transform:scaleX(1.0327);">380</span>
<svg style="position:absolute;left:910.0px;top:1490.1px;" width="40.0" height="40.0" viewBox="0 0 40 40"><circle cx="20" cy="20" r="19" fill="#3d629f" stroke="#6b52e2" stroke-width="1.5"/><g fill="none" stroke="#fff" stroke-width="1.45" stroke-linecap="round" stroke-linejoin="round"><path d="M18.4,9.7 H13.3 A3.6,3.6 0 0 0 9.8,13.3 V26.6 A3.8,3.8 0 0 0 13.6,30.5 H27 A3.6,3.6 0 0 0 30.6,26.9 V21.4"/><path d="M19.4,18.8 L28.6,9.9 A1.75,1.75 0 0 1 31,12.3 L21.9,21.3"/><path d="M19.4,18.8 C16.5,18.6 14,20.4 13.6,23.4 C13.4,24.8 14.4,25.7 16,25.5 C19.4,25.2 21.8,23.8 21.9,21.3 Z"/></g></svg>
<span class="t" style="left:968.3px;top:1500.1px;font-size:22.0px;line-height:22.0px;color:#eef3f8;transform:scaleX(1.0211);">Творчество</span>
<svg style="position:absolute;left:1388.4px;top:1502.9px;" width="11.0" height="16.2" viewBox="0 0 10.2 15"><g fill="none" stroke="#eef3f8" stroke-width="1.54" stroke-linejoin="round"><path d="M3,14.6 V0.7 H6.2 A3.6,3.6 0 0 1 6.2,7.9 H0.4"/><path d="M0.4,11.2 H7.2"/></g></svg>
<span class="t" style="left:1355.0px;top:1500.1px;font-size:22.0px;line-height:22.0px;color:#eef3f8;transform:scaleX(0.7528);">511</span>
<svg style="position:absolute;left:910.0px;top:1594.2px;" width="40.0" height="40.0" viewBox="0 0 40 40"><circle cx="20" cy="20" r="19" fill="rgba(40,125,160,0.25)" stroke="rgba(48,160,165,0.6)" stroke-width="1.5"/><g fill="none" stroke="#fff" stroke-width="1.45" stroke-linecap="round" stroke-linejoin="round"><rect x="8.8" y="11.7" width="22.1" height="16.8" rx="3"/><path d="M8.8,16.4 H30.9"/><path d="M12.6,24.3 H16.7 M17.9,24.3 H23.4"/></g></svg>
<span class="t" style="left:968.3px;top:1604.2px;font-size:22.0px;line-height:22.0px;color:#eef3f8;transform:scaleX(1.0193);">Платёж по кредиту</span>
<svg style="position:absolute;left:1388.4px;top:1607.0px;" width="11.0" height="16.2" viewBox="0 0 10.2 15"><g fill="none" stroke="#eef3f8" stroke-width="1.54" stroke-linejoin="round"><path d="M3,14.6 V0.7 H6.2 A3.6,3.6 0 0 1 6.2,7.9 H0.4"/><path d="M0.4,11.2 H7.2"/></g></svg>
<span class="t" style="left:1318.5px;top:1604.2px;font-size:22.0px;line-height:22.0px;color:#eef3f8;transform:scaleX(0.9348);">23 333</span>
<svg style="position:absolute;left:910.0px;top:1698.8px;" width="40.0" height="40.0" viewBox="0 0 40 40"><circle cx="20" cy="20" r="19" fill="#46678f" stroke="#c0707e" stroke-width="1.5"/><g fill="none" stroke="#fff" stroke-width="1.45" stroke-linecap="round" stroke-linejoin="round"><path d="M15,15 C12.2,16.4 10.2,19 10.2,21.8 C10.2,23.8 11.2,25.4 13,26.8 L14,30.6 H17.6 L18.4,28.5 H24.6 L25.4,30.6 H28.8 L29.8,26 C31,25.2 31.6,24 32,22.8 L30.4,21 C30.6,19.6 30,18 28.8,16.6 L27.2,11.2 L22.6,14.6 C21,14.1 19.4,14 18,14.2"/><path d="M16.4,14.3 A3.3,3.3 0 1 0 12.2,14.4"/><circle cx="23.6" cy="18.6" r="0.7" fill="#fff" stroke="none"/></g></svg>
<span class="t" style="left:968.3px;top:1708.8px;font-size:22.0px;line-height:22.0px;color:#eef3f8;transform:scaleX(1.0268);">Копилка</span>
<svg style="position:absolute;left:1388.4px;top:1711.6px;" width="11.0" height="16.2" viewBox="0 0 10.2 15"><g fill="none" stroke="#eef3f8" stroke-width="1.54" stroke-linejoin="round"><path d="M3,14.6 V0.7 H6.2 A3.6,3.6 0 0 1 6.2,7.9 H0.4"/><path d="M0.4,11.2 H7.2"/></g></svg>
<span class="t" style="left:1334.0px;top:1708.8px;font-size:22.0px;line-height:22.0px;color:#eef3f8;transform:scaleX(0.9686);">2667</span>
<svg style="position:absolute;left:910.0px;top:1757.1px;" width="40.0" height="40.0" viewBox="0 0 40 40"><circle cx="20" cy="20" r="19" fill="#2b788a" stroke="#3a9a50" stroke-width="1.5"/><g fill="none" stroke="#fff" stroke-width="1.45" stroke-linecap="round" stroke-linejoin="round"><path d="M10.7,29.4 V18.6 L20.3,11.3 L29,18.6 V29.4"/><path d="M9.6,29.6 H30.4"/><rect x="14.4" y="18.7" width="3.7" height="2.9" rx="1.2"/><rect x="21.7" y="18.7" width="3.8" height="2.9" rx="1.2"/><path d="M17.2,29.4 V26.6 A2.5,2.5 0 0 1 22.3,26.6 V29.4"/><path d="M24.6,14.8 V12.6 H27 V16.8"/></g></svg>
<span class="t" style="left:968.3px;top:1767.1px;font-size:22.0px;line-height:22.0px;color:#eef3f8;transform:scaleX(0.9967);">Квартплата</span>
<svg style="position:absolute;left:1388.4px;top:1769.9px;" width="11.0" height="16.2" viewBox="0 0 10.2 15"><g fill="none" stroke="#eef3f8" stroke-width="1.54" stroke-linejoin="round"><path d="M3,14.6 V0.7 H6.2 A3.6,3.6 0 0 1 6.2,7.9 H0.4"/><path d="M0.4,11.2 H7.2"/></g></svg>
<span class="t" style="left:1312.0px;top:1767.1px;font-size:22.0px;line-height:22.0px;color:#eef3f8;transform:scaleX(1.0314);">28 000</span>
<span class="t" style="left:911.4px;top:1823.2px;font-size:22px;line-height:22px;color:#2fa09a;transform:scaleX(1.0198);">Посмотреть больше</span>
<svg style="position:absolute;left:1603.9px;top:1156.3px;" width="24.0" height="24.0" viewBox="0 0 24.0 24.0"><g opacity="1"><circle cx="12.0" cy="12.0" r="10.20" fill="none" stroke="#3aa7a5" stroke-width="1.6"/><path d="M13.98,8.21L10.02,12.00L13.98,15.79" fill="none" stroke="#3aa7a5" stroke-width="1.6" stroke-linecap="round" stroke-linejoin="round"/></g></svg>
<span class="t" style="left:1653.4px;top:1160.6px;font-size:22px;line-height:22px;color:#eef3f8;transform:scaleX(0.9975);">Декабрь 2022 г.</span>
<svg style="position:absolute;left:1826.8px;top:1155.6px;" width="23.2" height="25.3" viewBox="0 0 23 25"><g fill="#dfe6ee"><rect x="3.2" y="0" width="3" height="5" rx="1"/><rect x="16.8" y="0" width="3" height="5" rx="1"/><path d="M2.5,2.5 H20.5 A2.5,2.5 0 0 1 23,5 V22.5 A2.5,2.5 0 0 1 20.5,25 H2.5 A2.5,2.5 0 0 1 0,22.5 V5 A2.5,2.5 0 0 1 2.5,2.5 Z M2.6,9.5 V22.4 H20.4 V9.5 Z" fill-rule="evenodd"/><rect x="5.2" y="12.2" width="3" height="3"/><rect x="10" y="12.2" width="3" height="3"/><rect x="14.8" y="12.2" width="3" height="3"/></g></svg>
<svg style="position:absolute;left:1882.2px;top:1156.3px;" width="24.0" height="24.0" viewBox="0 0 24.0 24.0"><g opacity="1"><circle cx="12.0" cy="12.0" r="10.20" fill="none" stroke="#3aa7a5" stroke-width="1.6"/><path d="M10.02,8.21L13.98,12.00L10.02,15.79" fill="none" stroke="#3aa7a5" stroke-width="1.6" stroke-linecap="round" stroke-linejoin="round"/></g></svg>
<svg style="position:absolute;left:1524.1px;top:1389.9px;" width="280.8" height="280.8" viewBox="0 0 280.8 280.8"><path d="M30.54,70.14A130.4,130.4 0 0 1 219.60,36.81L204.05,57.15A104.8,104.8 0 0 0 52.11,83.94Z" fill="#214a39" stroke="#3c8c1e" stroke-width="1.2" stroke-linejoin="round"/><path d="M219.60,36.81A130.4,130.4 0 0 1 263.32,96.87L239.19,105.42A104.8,104.8 0 0 0 204.05,57.15Z" fill="#5a1a36" stroke="#c4102e" stroke-width="1.2" stroke-linejoin="round"/><path d="M263.32,96.87A130.4,130.4 0 0 1 267.71,112.18L242.72,117.72A104.8,104.8 0 0 0 239.19,105.42Z" fill="#3b2b8c" stroke="#8a44e6" stroke-width="1.2" stroke-linejoin="round"/><path d="M267.71,112.18A130.4,130.4 0 0 1 187.13,262.14L177.96,238.24A104.8,104.8 0 0 0 242.72,117.72Z" fill="#344a6b" stroke="#73829f" stroke-width="1.2" stroke-linejoin="round"/><path d="M187.13,262.14A130.4,130.4 0 0 1 105.99,266.18L112.75,241.49A104.8,104.8 0 0 0 177.96,238.24Z" fill="#5d4661" stroke="#e2717f" stroke-width="1.2" stroke-linejoin="round"/><path d="M105.99,266.18A130.4,130.4 0 0 1 30.54,70.14L52.11,83.94A104.8,104.8 0 0 0 112.75,241.49Z" fill="#1f5873" stroke="#2fa3b3" stroke-width="1.2" stroke-linejoin="round"/></svg>
<span class="t" style="left:1594.2px;top:1526.3px;font-size:9.8px;line-height:9.8px;color:#e6e9ef;transform:scaleX(1.1407);-webkit-text-stroke:0.25px #e6e9ef;">Потрачено 73% из дохода</span>
<svg style="position:absolute;left:1945.5px;top:1162.6px;" width="260.0" height="40.0" viewBox="0 0 260.0 40.0"><path d="M0.5,7.6 H244.5 V35" fill="none" stroke="#3795c0" stroke-width="1.5"/><path d="M237.3,28 L244.5,35.4 L251.7,28" fill="none" stroke="#3795c0" stroke-width="1.5" stroke-linecap="round" stroke-linejoin="round"/></svg>
<div style="position:absolute;left:1956.3px;top:1202.1px;width:400.5px;height:368.3px;box-sizing:border-box;border:1px solid rgba(58,156,200,0.9);border-radius:14px;background:linear-gradient(88deg,#2c7698 0%,#256488 25%,#1a4569 50%,#102b51 75%,#07163c 100%);box-shadow:0 8px 22px rgba(0,0,0,0.45);"></div>
<span class="t" style="left:1986.8px;top:1234.1px;font-size:21px;line-height:21px;color:#f1f5f9;transform:scaleX(1.0926);-webkit-text-stroke:0.12px #f1f5f9;">Выбор периода</span>
<svg style="position:absolute;left:2303.1px;top:1232.2px;" width="24.0" height="24.0" viewBox="0 0 24.0 24.0"><circle cx="12.0" cy="12.0" r="10.25" fill="none" stroke="#2f9fc4" stroke-width="1.5"/><path d="M8.92,8.92L15.08,15.08M15.08,8.92L8.92,15.08" stroke="#2f9fc4" stroke-width="1.5" stroke-linecap="round"/></svg>
<span class="t" style="left:1986.8px;top:1280.4px;font-size:17.7px;line-height:17.7px;color:#e9eff5;transform:scaleX(1.0189);">День</span>
<svg style="position:absolute;left:2306.8px;top:1278.3px;" width="20.0" height="20.0" viewBox="0 0 20.0 20.0"><circle cx="10.0" cy="10.0" r="8.20" fill="none" stroke="#2f9fc4" stroke-width="1.60"/><circle cx="10.0" cy="10.0" r="4.00" fill="none" stroke="#2f9fc4" stroke-width="1.60"/></svg>
<div style="position:absolute;left:1986.2px;top:1308.0px;width:340.6px;height:1.5px;background:#2d88b6;"></div>
<span class="t" style="left:1986.8px;top:1325.9px;font-size:17.7px;line-height:17.7px;color:#e9eff5;transform:scaleX(0.9913);">Неделя</span>
<svg style="position:absolute;left:2306.8px;top:1323.8px;" width="20.0" height="20.0" viewBox="0 0 20.0 20.0"><circle cx="10.0" cy="10.0" r="8.20" fill="none" stroke="#2f9fc4" stroke-width="1.60"/><circle cx="10.0" cy="10.0" r="4.00" fill="none" stroke="#2f9fc4" stroke-width="1.60"/></svg>
<div style="position:absolute;left:1986.2px;top:1353.0px;width:340.6px;height:1.5px;background:#2d88b6;"></div>
<span class="t" style="left:1986.8px;top:1371.3px;font-size:17.7px;line-height:17.7px;color:#e9eff5;transform:scaleX(0.9988);">2 недели</span>
<svg style="position:absolute;left:2306.8px;top:1369.2px;" width="20.0" height="20.0" viewBox="0 0 20.0 20.0"><circle cx="10.0" cy="10.0" r="8.20" fill="none" stroke="#2f9fc4" stroke-width="1.60"/><circle cx="10.0" cy="10.0" r="4.00" fill="none" stroke="#2f9fc4" stroke-width="1.60"/></svg>
<div style="position:absolute;left:1986.2px;top:1399.0px;width:340.6px;height:1.5px;background:#2d88b6;"></div>
<span class="t" style="left:1986.8px;top:1416.8px;font-size:17.7px;line-height:17.7px;color:#2c908c;transform:scaleX(1.0026);">Месяц</span>
<svg style="position:absolute;left:2306.8px;top:1414.6px;" width="20.0" height="20.0" viewBox="0 0 20.0 20.0"><circle cx="10.0" cy="10.0" r="8.20" fill="none" stroke="#2f9fc4" stroke-width="1.60"/><circle cx="10.0" cy="10.0" r="4.30" fill="#3fb4a8"/></svg>
<div style="position:absolute;left:1986.2px;top:1444.0px;width:340.6px;height:1.5px;background:#2d88b6;"></div>
<span class="t" style="left:1986.8px;top:1462.2px;font-size:17.7px;line-height:17.7px;color:#e9eff5;transform:scaleX(0.9332);">Год</span>
<svg style="position:absolute;left:2306.8px;top:1460.1px;" width="20.0" height="20.0" viewBox="0 0 20.0 20.0"><circle cx="10.0" cy="10.0" r="8.20" fill="none" stroke="#2f9fc4" stroke-width="1.60"/><circle cx="10.0" cy="10.0" r="4.00" fill="none" stroke="#2f9fc4" stroke-width="1.60"/></svg>
<div style="position:absolute;left:1986.2px;top:1490.0px;width:340.6px;height:1.5px;background:#2d88b6;"></div>
<span class="t" style="left:1986.8px;top:1507.7px;font-size:17.7px;line-height:17.7px;color:#e9eff5;transform:scaleX(1.0028);">Всё время</span>
<svg style="position:absolute;left:2306.8px;top:1505.5px;" width="20.0" height="20.0" viewBox="0 0 20.0 20.0"><circle cx="10.0" cy="10.0" r="8.20" fill="none" stroke="#2f9fc4" stroke-width="1.60"/><circle cx="10.0" cy="10.0" r="4.00" fill="none" stroke="#2f9fc4" stroke-width="1.60"/></svg>
<div style="position:absolute;left:1906.3px;top:1529.1px;width:400.5px;height:368.3px;box-sizing:border-box;border:1px solid rgba(58,156,200,0.9);border-radius:14px;background:radial-gradient(ellipse 45% 25% at 30% 0%,rgba(50,140,175,0.55) 0%,rgba(45,130,170,0) 100%),linear-gradient(88deg,#2c7698 0%,#256488 25%,#1a4569 50%,#102b51 75%,#07163c 100%);box-shadow:0 8px 22px rgba(0,0,0,0.45);"></div>
<span class="t" style="left:1936.8px;top:1561.1px;font-size:21px;line-height:21px;color:#f1f5f9;transform:scaleX(1.0926);-webkit-text-stroke:0.12px #f1f5f9;">Выбор периода</span>
<svg style="position:absolute;left:2253.1px;top:1559.2px;" width="24.0" height="24.0" viewBox="0 0 24.0 24.0"><circle cx="12.0" cy="12.0" r="10.25" fill="none" stroke="#2f9fc4" stroke-width="1.5"/><path d="M8.92,8.92L15.08,15.08M15.08,8.92L8.92,15.08" stroke="#2f9fc4" stroke-width="1.5" stroke-linecap="round"/></svg>
<span class="t" style="left:1936.8px;top:1607.4px;font-size:17.7px;line-height:17.7px;color:#2c908c;transform:scaleX(1.0189);">День</span>
<svg style="position:absolute;left:2256.8px;top:1605.3px;" width="20.0" height="20.0" viewBox="0 0 20.0 20.0"><circle cx="10.0" cy="10.0" r="8.20" fill="none" stroke="#2f9fc4" stroke-width="1.60"/><circle cx="10.0" cy="10.0" r="4.30" fill="#3fb4a8"/></svg>
<div style="position:absolute;left:1936.2px;top:1635.0px;width:340.6px;height:1.5px;background:#2d88b6;"></div>
<span class="t" style="left:1936.8px;top:1652.9px;font-size:17.7px;line-height:17.7px;color:#e9eff5;transform:scaleX(0.9913);">Неделя</span>
<svg style="position:absolute;left:2256.8px;top:1650.8px;" width="20.0" height="20.0" viewBox="0 0 20.0 20.0"><circle cx="10.0" cy="10.0" r="8.20" fill="none" stroke="#2f9fc4" stroke-width="1.60"/><circle cx="10.0" cy="10.0" r="4.00" fill="none" stroke="#2f9fc4" stroke-width="1.60"/></svg>
<div style="position:absolute;left:1936.2px;top:1680.0px;width:340.6px;height:1.5px;background:#2d88b6;"></div>
<span class="t" style="left:1936.8px;top:1698.3px;font-size:17.7px;line-height:17.7px;color:#e9eff5;transform:scaleX(0.9988);">2 недели</span>
<svg style="position:absolute;left:2256.8px;top:1696.2px;" width="20.0" height="20.0" viewBox="0 0 20.0 20.0"><circle cx="10.0" cy="10.0" r="8.20" fill="none" stroke="#2f9fc4" stroke-width="1.60"/><circle cx="10.0" cy="10.0" r="4.00" fill="none" stroke="#2f9fc4" stroke-width="1.60"/></svg>
<div style="position:absolute;left:1936.2px;top:1726.0px;width:340.6px;height:1.5px;background:#2d88b6;"></div>
<span class="t" style="left:1936.8px;top:1743.8px;font-size:17.7px;line-height:17.7px;color:#e9eff5;transform:scaleX(1.0026);">Месяц</span>
<svg style="position:absolute;left:2256.8px;top:1741.6px;" width="20.0" height="20.0" viewBox="0 0 20.0 20.0"><circle cx="10.0" cy="10.0" r="8.20" fill="none" stroke="#2f9fc4" stroke-width="1.60"/><circle cx="10.0" cy="10.0" r="4.00" fill="none" stroke="#2f9fc4" stroke-width="1.60"/></svg>
<div style="position:absolute;left:1936.2px;top:1771.0px;width:340.6px;height:1.5px;background:#2d88b6;"></div>
<span class="t" style="left:1936.8px;top:1789.2px;font-size:17.7px;line-height:17.7px;color:#e9eff5;transform:scaleX(0.9332);">Год</span>
<svg style="position:absolute;left:2256.8px;top:1787.1px;" width="20.0" height="20.0" viewBox="0 0 20.0 20.0"><circle cx="10.0" cy="10.0" r="8.20" fill="none" stroke="#2f9fc4" stroke-width="1.60"/><circle cx="10.0" cy="10.0" r="4.00" fill="none" stroke="#2f9fc4" stroke-width="1.60"/></svg>
<div style="position:absolute;left:1936.2px;top:1817.0px;width:340.6px;height:1.5px;background:#2d88b6;"></div>
<span class="t" style="left:1936.8px;top:1834.7px;font-size:17.7px;line-height:17.7px;color:#e9eff5;transform:scaleX(1.0028);">Всё время</span>
<svg style="position:absolute;left:2256.8px;top:1832.5px;" width="20.0" height="20.0" viewBox="0 0 20.0 20.0"><circle cx="10.0" cy="10.0" r="8.20" fill="none" stroke="#2f9fc4" stroke-width="1.60"/><circle cx="10.0" cy="10.0" r="4.00" fill="none" stroke="#2f9fc4" stroke-width="1.60"/></svg>
<div style="position:absolute;left:1394.2px;top:1819.3px;width:849.5px;height:327.0px;box-sizing:border-box;border:1px solid rgba(58,156,200,0.9);border-radius:11px;background:radial-gradient(ellipse 24% 52% at 69% 0%,rgba(60,150,185,0.55) 0%,rgba(45,130,170,0) 100%),radial-gradient(ellipse 62% 36% at 24% 0%,rgba(55,150,188,0.5) 0%,rgba(50,140,180,0.25) 55%,rgba(45,130,170,0) 100%),linear-gradient(93deg,#2b7496 0%,#25668a 12%,#1f567b 25%,#1a496e 38%,#163d63 50%,#0e2850 75%,#09193f 100%);box-shadow:0 8px 24px rgba(0,0,0,0.5);"></div>
<span class="t" style="left:1419.7px;top:1848.9px;font-size:24.4px;line-height:24.4px;color:#f3f6fa;transform:scaleX(1.1517);-webkit-text-stroke:0.61px #f3f6fa;">История операций</span>
<span class="t" style="left:1419.1px;top:1893.4px;font-size:20.4px;line-height:20.4px;font-weight:bold;color:#f3f6fa;transform:scaleX(1.0257);">Траты за</span>
<span class="t" style="left:1518.8px;top:1893.4px;font-size:20.4px;line-height:20.4px;color:#41aaa4;transform:scaleX(1.0624);-webkit-text-stroke:0.22px #41aaa4;">16 декабря</span>
<svg style="position:absolute;left:1744.0px;top:1896.1px;" width="13.4" height="15.0" viewBox="0 0 13.4 15"><g fill="none" stroke="#41aaa4" stroke-width="1.54" stroke-linejoin="round"><path d="M3.4,14.6 V0.7 H8 A4.1,4.1 0 0 1 8,8.9 H0.4"/><path d="M0.4,11.9 H8.8"/></g></svg>
<span class="t" style="left:1681.7px;top:1893.4px;font-size:20.4px;line-height:20.4px;color:#41aaa4;transform:scaleX(1.1022);">4 546</span>
<svg style="position:absolute;left:1418.7px;top:1935.0px;" width="32.0" height="32.0" viewBox="0 0 40 40"><circle cx="20" cy="20" r="19" fill="#4a5d88" stroke="#b8324e" stroke-width="1.5"/><g fill="none" stroke="#fff" stroke-width="1.45" stroke-linecap="round" stroke-linejoin="round"><path d="M9.3,9.8 H13.5 L16.6,23.7 H28.8 L30.8,13.5 H14.5"/><circle cx="17.3" cy="28.6" r="1.3"/><circle cx="28" cy="28.6" r="1.3"/></g></svg>
<span class="t" style="left:1465.8px;top:1943.1px;font-size:17.6px;line-height:17.6px;color:#eef3f8;transform:scaleX(1.0224);">Продукты</span>
<svg style="position:absolute;left:1788.8px;top:1945.4px;" width="8.8" height="13.0" viewBox="0 0 10.2 15"><g fill="none" stroke="#eef3f8" stroke-width="1.54" stroke-linejoin="round"><path d="M3,14.6 V0.7 H6.2 A3.6,3.6 0 0 1 6.2,7.9 H0.4"/><path d="M0.4,11.2 H7.2"/></g></svg>
<span class="t" style="left:1745.3px;top:1943.1px;font-size:17.6px;line-height:17.6px;color:#eef3f8;transform:scaleX(0.9686);">3425</span>
<svg style="position:absolute;left:1418.7px;top:1987.1px;" width="32.0" height="32.0" viewBox="0 0 40 40"><circle cx="20" cy="20" r="19" fill="#3f7f86" stroke="#e2b022" stroke-width="1.5"/><g fill="none" stroke="#fff" stroke-width="1.45" stroke-linecap="round" stroke-linejoin="round"><path d="M11.5,16.6 L14,12 Q15,11.2 16.6,11.2 H23.7 Q25.2,11.2 26.2,12 L28.8,16.6 M10.6,16.6 H13.4 M26.9,16.6 H29.7"/><path d="M13.5,16.1 C11.5,17.6 10.2,19.6 10.2,22.2 V28.8 L11.5,29.8 H14.5 L16.1,27.3 H24.2 L25.7,29.8 H28.8 L30.1,28.8 V22.2 C30.1,19.6 28.8,17.6 26.8,16.1"/><path d="M14,23 H17.6 M22.7,23 H26.2 M18.3,13.3 H22"/></g></svg>
<span class="t" style="left:1465.8px;top:1995.2px;font-size:17.6px;line-height:17.6px;color:#eef3f8;transform:scaleX(0.9854);">Такси</span>
<svg style="position:absolute;left:1788.8px;top:1997.5px;" width="8.8" height="13.0" viewBox="0 0 10.2 15"><g fill="none" stroke="#eef3f8" stroke-width="1.54" stroke-linejoin="round"><path d="M3,14.6 V0.7 H6.2 A3.6,3.6 0 0 1 6.2,7.9 H0.4"/><path d="M0.4,11.2 H7.2"/></g></svg>
<span class="t" style="left:1754.0px;top:1995.2px;font-size:17.6px;line-height:17.6px;color:#eef3f8;transform:scaleX(0.9952);">230</span>
<svg style="position:absolute;left:1418.7px;top:2039.2px;" width="32.0" height="32.0" viewBox="0 0 40 40"><circle cx="20" cy="20" r="19" fill="rgba(22,70,116,0.12)" stroke="rgba(28,72,116,0.55)" stroke-width="1.5"/><g fill="none" stroke="#fff" stroke-width="1.45" stroke-linecap="round" stroke-linejoin="round"><circle cx="20.1" cy="20" r="10.1"/><ellipse cx="20.1" cy="20" rx="4.6" ry="10.1"/><path d="M11,15.7 H29.2 M11,24.3 H29.2"/></g></svg>
<span class="t" style="left:1465.8px;top:2047.3px;font-size:17.6px;line-height:17.6px;color:#eef3f8;transform:scaleX(1.0274);">Интернет</span>
<svg style="position:absolute;left:1788.8px;top:2049.6px;" width="8.8" height="13.0" viewBox="0 0 10.2 15"><g fill="none" stroke="#eef3f8" stroke-width="1.54" stroke-linejoin="round"><path d="M3,14.6 V0.7 H6.2 A3.6,3.6 0 0 1 6.2,7.9 H0.4"/><path d="M0.4,11.2 H7.2"/></g></svg>
<span class="t" style="left:1752.9px;top:2047.3px;font-size:17.6px;line-height:17.6px;color:#eef3f8;transform:scaleX(1.0327);">380</span>
<svg style="position:absolute;left:1418.7px;top:2091.4px;" width="32.0" height="32.0" viewBox="0 0 40 40"><circle cx="20" cy="20" r="19" fill="#3d5c9c" stroke="#6b52e2" stroke-width="1.5"/><g fill="none" stroke="#fff" stroke-width="1.45" stroke-linecap="round" stroke-linejoin="round"><path d="M18.4,9.7 H13.3 A3.6,3.6 0 0 0 9.8,13.3 V26.6 A3.8,3.8 0 0 0 13.6,30.5 H27 A3.6,3.6 0 0 0 30.6,26.9 V21.4"/><path d="M19.4,18.8 L28.6,9.9 A1.75,1.75 0 0 1 31,12.3 L21.9,21.3"/><path d="M19.4,18.8 C16.5,18.6 14,20.4 13.6,23.4 C13.4,24.8 14.4,25.7 16,25.5 C19.4,25.2 21.8,23.8 21.9,21.3 Z"/></g></svg>
<span class="t" style="left:1465.8px;top:2099.5px;font-size:17.6px;line-height:17.6px;color:#eef3f8;transform:scaleX(1.0206);">Творчество</span>
<svg style="position:absolute;left:1788.8px;top:2101.8px;" width="8.8" height="13.0" viewBox="0 0 10.2 15"><g fill="none" stroke="#eef3f8" stroke-width="1.54" stroke-linejoin="round"><path d="M3,14.6 V0.7 H6.2 A3.6,3.6 0 0 1 6.2,7.9 H0.4"/><path d="M0.4,11.2 H7.2"/></g></svg>
<span class="t" style="left:1761.8px;top:2099.5px;font-size:17.6px;line-height:17.6px;color:#eef3f8;transform:scaleX(0.7635);">511</span>
<svg style="position:absolute;left:1961.8px;top:1847.3px;" width="19.8" height="19.8" viewBox="0 0 19.8 19.8"><g opacity="1"><circle cx="9.9" cy="9.9" r="8.20" fill="none" stroke="#2f9a95" stroke-width="1.4"/><path d="M11.50,6.83L8.30,9.90L11.50,12.97" fill="none" stroke="#2f9a95" stroke-width="1.4" stroke-linecap="round" stroke-linejoin="round"/></g></svg>
<span class="t" style="left:1992.6px;top:1851.1px;font-size:17.6px;line-height:17.6px;color:#eef3f8;transform:scaleX(0.9673);">16 декабря 2022 г.</span>
<svg style="position:absolute;left:2153.8px;top:1847.4px;" width="18.6" height="20.2" viewBox="0 0 23 25"><g fill="#dfe6ee"><rect x="3.2" y="0" width="3" height="5" rx="1"/><rect x="16.8" y="0" width="3" height="5" rx="1"/><path d="M2.5,2.5 H20.5 A2.5,2.5 0 0 1 23,5 V22.5 A2.5,2.5 0 0 1 20.5,25 H2.5 A2.5,2.5 0 0 1 0,22.5 V5 A2.5,2.5 0 0 1 2.5,2.5 Z M2.6,9.5 V22.4 H20.4 V9.5 Z" fill-rule="evenodd"/><rect x="5.2" y="12.2" width="3" height="3"/><rect x="10" y="12.2" width="3" height="3"/><rect x="14.8" y="12.2" width="3" height="3"/></g></svg>
<svg style="position:absolute;left:2182.2px;top:1847.3px;" width="19.8" height="19.8" viewBox="0 0 19.8 19.8"><g opacity="0.8"><circle cx="9.9" cy="9.9" r="8.20" fill="none" stroke="#2a8088" stroke-width="1.4"/><path d="M8.30,6.83L11.50,9.90L8.30,12.97" fill="none" stroke="#2a8088" stroke-width="1.4" stroke-linecap="round" stroke-linejoin="round"/></g></svg>
<svg style="position:absolute;left:1977.3px;top:1893.4px;" width="229.6" height="229.6" viewBox="0 0 229.6 229.6"><path d="M48.85,33.36A104.8,104.8 0 0 1 180.04,32.78L167.15,48.98A84.1,84.1 0 0 0 61.87,49.44Z" fill="#3f3b8c" stroke="#7c4be2" stroke-width="1.2" stroke-linejoin="round"/><path d="M180.04,32.78A104.8,104.8 0 0 1 214.36,82.07L194.69,88.53A84.1,84.1 0 0 0 167.15,48.98Z" fill="#5b4b31" stroke="#d2a220" stroke-width="1.2" stroke-linejoin="round"/><path d="M214.36,82.07A104.8,104.8 0 0 1 208.59,161.56L190.06,152.33A84.1,84.1 0 0 0 194.69,88.53Z" fill="#133b5f" stroke="#1f5c82" stroke-width="1.2" stroke-linejoin="round"/><path d="M208.59,161.56A104.8,104.8 0 1 1 48.85,33.36L61.87,49.44A84.1,84.1 0 1 0 190.06,152.33Z" fill="#5a1f39" stroke="#c4102e" stroke-width="1.2" stroke-linejoin="round"/></svg>
<span class="t" style="left:2031.2px;top:2005.4px;font-size:8px;line-height:8px;color:#e6e9ef;transform:scaleX(1.1252);-webkit-text-stroke:0.20px #e6e9ef;">Потрачено 4.79% из дохода</span>
<span class="t" style="left:449.0px;top:2252.5px;font-size:40.5px;line-height:40.5px;color:#fff;transform:scaleX(1.1602);">Личный кабинет</span>
<div style="position:absolute;left:441.0px;top:2336.0px;width:1440.0px;height:1405.6px;box-shadow:8px 12px 26px -8px rgba(0,0,0,0.45);"></div>
<div style="position:absolute;left:783.0px;top:2835.0px;width:755.0px;height:678.0px;box-sizing:border-box;border:2px solid rgba(30,95,140,0.75);border-radius:22px;background:linear-gradient(90deg,#05133a 0%,#08193e 8%,#0f2a4f 22%,#112f54 60%,#0d274c 100%);filter:blur(3.5px);"></div>
<span class="t" style="left:817.5px;top:2877.6px;font-size:31px;line-height:31px;font-weight:bold;color:#dfe6f0;transform:scaleX(1.1050);filter:blur(3.2px);">Основные</span>
<span class="t" style="left:817.5px;top:2933.9px;font-size:20px;line-height:20px;color:#b5c2d4;transform:scaleX(1.1500);-webkit-text-stroke:0.22px #b5c2d4;filter:blur(3.2px);">Имя</span>
<div style="position:absolute;left:816.7px;top:2964.0px;width:689.0px;height:45.0px;box-sizing:border-box;border:2px solid rgba(32,100,150,0.8);border-radius:8px;background:rgba(12,40,80,0.35);filter:blur(2.5px);"></div>
<span class="t" style="left:830.6px;top:2979.8px;font-size:17px;line-height:17px;color:#8ea3bd;transform:scaleX(1.1500);filter:blur(3.2px);">Елена</span>
<span class="t" style="left:817.5px;top:3093.2px;font-size:31px;line-height:31px;font-weight:bold;color:#dfe6f0;transform:scaleX(1.1050);filter:blur(3.2px);">Параметры входа</span>
<span class="t" style="left:817.5px;top:3150.6px;font-size:20px;line-height:20px;color:#b5c2d4;transform:scaleX(1.1200);-webkit-text-stroke:0.22px #b5c2d4;filter:blur(3.2px);">Телефон</span>
<div style="position:absolute;left:816.7px;top:3181.5px;width:689.0px;height:46.0px;box-sizing:border-box;border:2px solid rgba(32,100,150,0.8);border-radius:8px;background:rgba(12,40,80,0.35);filter:blur(2.5px);"></div>
<span class="t" style="left:830.6px;top:3195.9px;font-size:17px;line-height:17px;color:#8ea3bd;transform:scaleX(1.1500);filter:blur(3.2px);">+7 999 999 99 99</span>
<span class="t" style="left:817.5px;top:3250.7px;font-size:20px;line-height:20px;color:#b5c2d4;transform:scaleX(1.1200);-webkit-text-stroke:0.22px #b5c2d4;filter:blur(3.2px);">Пароль</span>
<div style="position:absolute;left:816.7px;top:3281.0px;width:689.0px;height:46.5px;box-sizing:border-box;border:2px solid rgba(32,100,150,0.8);border-radius:8px;background:rgba(12,40,80,0.35);filter:blur(2.5px);"></div>
<span class="t" style="left:830.6px;top:3295.4px;font-size:17px;line-height:17px;color:#6e86a3;transform:scaleX(1.1500);filter:blur(3.2px);">••••••••</span>
<div style="position:absolute;left:441.0px;top:3592.4px;width:1440.0px;height:149.4px;box-sizing:border-box;border:1.5px solid rgba(30,100,150,0.8);border-radius:14px 14px 0 0;background:linear-gradient(95deg,#0a1e45 0%,#0c254c 25%,#0e2a52 55%,#0b234a 80%,#0a2047 100%);filter:blur(1.6px);"></div>
<span class="t" style="left:590.4px;top:3621.1px;font-size:31.80px;line-height:31.80px;background:linear-gradient(#2fc2bd 10%,#1f9499 36%,#10506b 56%,#0c2c52 74%);-webkit-background-clip:text;background-clip:text;color:transparent;-webkit-text-stroke:0.95px rgba(30,140,150,0.14);filter:blur(2.6px);opacity:0.78;transform:scaleX(1.125)">Fin</span>
<span class="t" style="left:667.7px;top:3621.1px;font-size:31.80px;line-height:31.80px;background:linear-gradient(#2fc2bd 10%,#1f9499 36%,#10506b 56%,#0c2c52 74%);-webkit-background-clip:text;background-clip:text;color:transparent;-webkit-text-stroke:0.95px rgba(30,140,150,0.14);filter:blur(2.6px);opacity:0.78;transform:scaleX(1.205)">pp</span>
<svg style="position:absolute;left:641.0px;top:3623.8px;filter:blur(2.6px);opacity:0.78;" width="25.1" height="25.1" viewBox="0 0 28 28"><defs><radialGradient id="cg7" cx="0.45" cy="0.3" r="0.8"><stop offset="0" stop-color="#2cc0d0"/><stop offset="0.65" stop-color="#16889f"/><stop offset="1" stop-color="#0c4a6c"/></radialGradient></defs><circle cx="14.0" cy="14.0" r="13.6" fill="url(#cg7)"/><path d="M14.51,4.21L14.72,0.30" stroke="#0c4a6c" stroke-width="0.7"/><path d="M21.28,7.44L24.20,4.82" stroke="#0c4a6c" stroke-width="0.7"/><path d="M23.79,14.51L27.70,14.72" stroke="#0c4a6c" stroke-width="0.7"/><path d="M20.56,21.28L23.18,24.20" stroke="#0c4a6c" stroke-width="0.7"/><path d="M13.49,23.79L13.28,27.70" stroke="#0c4a6c" stroke-width="0.7"/><path d="M6.72,20.56L3.80,23.18" stroke="#0c4a6c" stroke-width="0.7"/><path d="M4.21,13.49L0.30,13.28" stroke="#0c4a6c" stroke-width="0.7"/><path d="M7.44,6.72L4.82,3.80" stroke="#0c4a6c" stroke-width="0.7"/><circle cx="14.0" cy="14.0" r="10.08" fill="#102c55"/><g transform="translate(10.0,8.4) scale(0.76)" fill="none" stroke="#23a9b4" stroke-width="1.9" stroke-linejoin="round"><path d="M3.4,14.6 V0.7 H8 A4.1,4.1 0 0 1 8,8.9 H0.4"/><path d="M0.4,11.9 H8.8"/></g></svg>
<span class="t" style="left:588.9px;top:3669.1px;font-size:20.5px;line-height:20.5px;color:#e3e9f2;transform:scaleX(1.1266);-webkit-text-stroke:0.23px #e3e9f2;filter:blur(3.2px);">2022 Financial Opportunities</span>
<span class="t" style="left:588.9px;top:3695.2px;font-size:20.5px;line-height:20.5px;color:#1b7d86;transform:scaleX(1.1256);-webkit-text-stroke:0.23px #1b7d86;filter:blur(3.2px);">finopp@mail.com</span>
<span class="t" style="left:1268.0px;top:3659.4px;font-size:20px;line-height:20px;color:#c5d0e0;transform:scaleX(1.1823);-webkit-text-stroke:0.22px #c5d0e0;filter:blur(3.2px);">Главная</span>
<span class="t" style="left:1396.0px;top:3659.4px;font-size:20px;line-height:20px;color:#c5d0e0;transform:scaleX(1.0698);-webkit-text-stroke:0.22px #c5d0e0;filter:blur(3.2px);">О нас</span>
<span class="t" style="left:1492.0px;top:3659.4px;font-size:20px;line-height:20px;color:#c5d0e0;transform:scaleX(1.0587);-webkit-text-stroke:0.22px #c5d0e0;filter:blur(3.2px);">Тарифы</span>
<div style="position:absolute;left:441.0px;top:2436.0px;width:1.0px;height:1305.6px;background:#3391bd;"></div>
<div style="position:absolute;left:1880.0px;top:2436.0px;width:1.0px;height:1305.6px;background:#3391bd;"></div>
<div style="position:absolute;left:441.0px;top:3741.1px;width:1440.0px;height:1.0px;background:rgba(45,136,182,0.75);"></div>
<div style="position:absolute;left:441.0px;top:2336.0px;width:1440.0px;height:110.0px;box-sizing:border-box;border:1px solid rgba(58,156,200,0.9);border-radius:0 0 15px 15px;background:linear-gradient(97deg,#091c47 0%,#0d2852 18%,#113059 45%,#0e2a54 70%,#0a2049 100%);box-shadow:0 12px 16px -8px rgba(0,0,0,0.45);"></div>
<span class="t" style="left:592.7px;top:2374.5px;font-size:34.66px;line-height:34.66px;background:linear-gradient(#2fc2bd 10%,#1f9499 36%,#10506b 56%,#0c2c52 74%);-webkit-background-clip:text;background-clip:text;color:transparent;-webkit-text-stroke:1.04px rgba(30,140,150,0.14);transform:scaleX(1.125)">Fin</span>
<span class="t" style="left:676.9px;top:2374.5px;font-size:34.66px;line-height:34.66px;background:linear-gradient(#2fc2bd 10%,#1f9499 36%,#10506b 56%,#0c2c52 74%);-webkit-background-clip:text;background-clip:text;color:transparent;-webkit-text-stroke:1.04px rgba(30,140,150,0.14);transform:scaleX(1.205)">pp</span>
<svg style="position:absolute;left:647.9px;top:2377.5px;" width="27.4" height="27.4" viewBox="0 0 28 28"><defs><radialGradient id="cg8" cx="0.45" cy="0.3" r="0.8"><stop offset="0" stop-color="#2cc0d0"/><stop offset="0.65" stop-color="#16889f"/><stop offset="1" stop-color="#0c4a6c"/></radialGradient></defs><circle cx="14.0" cy="14.0" r="13.6" fill="url(#cg8)"/><path d="M14.51,4.21L14.72,0.30" stroke="#0c4a6c" stroke-width="0.7"/><path d="M21.28,7.44L24.20,4.82" stroke="#0c4a6c" stroke-width="0.7"/><path d="M23.79,14.51L27.70,14.72" stroke="#0c4a6c" stroke-width="0.7"/><path d="M20.56,21.28L23.18,24.20" stroke="#0c4a6c" stroke-width="0.7"/><path d="M13.49,23.79L13.28,27.70" stroke="#0c4a6c" stroke-width="0.7"/><path d="M6.72,20.56L3.80,23.18" stroke="#0c4a6c" stroke-width="0.7"/><path d="M4.21,13.49L0.30,13.28" stroke="#0c4a6c" stroke-width="0.7"/><path d="M7.44,6.72L4.82,3.80" stroke="#0c4a6c" stroke-width="0.7"/><circle cx="14.0" cy="14.0" r="10.08" fill="#102c55"/><g transform="translate(10.0,8.4) scale(0.76)" fill="none" stroke="#23a9b4" stroke-width="1.9" stroke-linejoin="round"><path d="M3.4,14.6 V0.7 H8 A4.1,4.1 0 0 1 8,8.9 H0.4"/><path d="M0.4,11.9 H8.8"/></g></svg>
<span class="t" style="left:774.5px;top:2380.9px;font-size:21.5px;line-height:21.5px;color:#fff;transform:scaleX(0.9959);">Главная</span>
<span class="t" style="left:907.5px;top:2380.9px;font-size:21.5px;line-height:21.5px;color:#fff;transform:scaleX(1.0213);">О нас</span>
<span class="t" style="left:1017.5px;top:2380.9px;font-size:21.5px;line-height:21.5px;color:#fff;transform:scaleX(1.0156);">Тарифы</span>
<svg style="position:absolute;left:1594.0px;top:2371.0px;" width="40.0" height="40.0" viewBox="0 0 40.0 40.0"><circle cx="20" cy="20" r="9" fill="none" stroke="#fff" stroke-width="2"/><circle cx="20.00" cy="5.70" r="1.1" fill="#fff"/><circle cx="30.11" cy="9.89" r="1.1" fill="#fff"/><circle cx="34.30" cy="20.00" r="1.1" fill="#fff"/><circle cx="30.11" cy="30.11" r="1.1" fill="#fff"/><circle cx="20.00" cy="34.30" r="1.1" fill="#fff"/><circle cx="9.89" cy="30.11" r="1.1" fill="#fff"/><circle cx="5.70" cy="20.00" r="1.1" fill="#fff"/><circle cx="9.89" cy="9.89" r="1.1" fill="#fff"/></svg>
<svg style="position:absolute;left:1667.2px;top:2361.0px;" width="60.0" height="60.0" viewBox="0 0 100 100"><defs><clipPath id="cl9"><circle cx="50" cy="50" r="50"/></clipPath><linearGradient id="bg10" x1="0" x2="1"><stop offset="0" stop-color="#5d5b59"/><stop offset="0.12" stop-color="#8a8886"/><stop offset="0.2" stop-color="#6c6a68"/><stop offset="0.3" stop-color="#7b7977"/><stop offset="0.72" stop-color="#77716d"/><stop offset="0.76" stop-color="#a19e9b"/><stop offset="0.8" stop-color="#4a4644"/><stop offset="0.88" stop-color="#6b6866"/><stop offset="0.94" stop-color="#3c3937"/><stop offset="1" stop-color="#55524f"/></linearGradient><linearGradient id="fg11" x1="0" x2="1"><stop offset="0" stop-color="#c59a8b"/><stop offset="0.35" stop-color="#dcb3a4"/><stop offset="0.7" stop-color="#d6aa9b"/><stop offset="1" stop-color="#b58878"/></linearGradient><linearGradient id="hg12" x1="0" x2="1"><stop offset="0" stop-color="#7a5144"/><stop offset="0.3" stop-color="#5e3c32"/><stop offset="0.7" stop-color="#654135"/><stop offset="1" stop-color="#52322a"/></linearGradient></defs><g clip-path="url(#cl9)"><rect width="100" height="100" fill="url(#bg10)"/><path d="M30,10 C38,1 62,1 70,10 C78,20 80,45 86,72 C89,86 92,100 92,100 L8,100 C10,85 16,70 22,50 C25,35 24,20 30,10 Z" fill="url(#hg12)"/><path d="M42,56 L59,56 L61,74 L40,74 Z" fill="#b88c7d"/><path d="M37,71 C44,66.5 58,66.5 65,71 L72,100 L30,100 Z" fill="#85827e"/><path d="M41,70 C46,67.6 56,67.6 61,70" stroke="#9a9793" stroke-width="1.6" fill="none"/><ellipse cx="50.4" cy="39" rx="18" ry="22.5" fill="url(#fg11)"/><path d="M45,2.5 C36,10 33,24 33,40 C33,51 35,60 38,66 C39,78 40,90 42,100 L8,100 C13,82 20,62 24,46 C26,30 28,11 45,2.5 Z" fill="#6a463b"/><path d="M45,2.5 C58,5 66,16 68,30 C69,42 68,54 64.5,64 C64,76 63.5,90 63,100 L92,100 C88,80 82,60 78,42 C76,25 70,6 45,2.5 Z" fill="#5f3e34"/><path d="M40,10 C33,24 30,44 27,62 C25,76 22,90 20,100" stroke="#8c6152" stroke-width="1.8" fill="none" opacity="0.8"/><path d="M35,60 C33,74 32,88 31,100" stroke="#8f6455" stroke-width="1.6" fill="none" opacity="0.8"/><path d="M60,12 C68,26 72,46 76,64 C79,78 82,90 84,100" stroke="#6f463b" stroke-width="1.6" fill="none" opacity="0.8"/><ellipse cx="40.2" cy="30.8" rx="3.3" ry="1.35" fill="#4a3a36"/><ellipse cx="57.6" cy="30.8" rx="3.3" ry="1.35" fill="#4a3a36"/><path d="M35,27 C38,25.4 42,25.4 45.2,26.6" stroke="#5e4239" stroke-width="1.4" fill="none"/><path d="M52.8,26.6 C56,25.2 60,25.4 63.4,27.2" stroke="#5e4239" stroke-width="1.4" fill="none"/><path d="M46.4,39.4 C48,41.4 52,41.4 53.6,39.4" stroke="#a87868" stroke-width="1.1" fill="none"/><path d="M43.6,48.4 C46.5,47.2 53,47.2 56,48.4 C53,51 46.5,51 43.6,48.4 Z" fill="#b96c64"/></g></svg>
<div style="position:absolute;left:1711.5px;top:2360.2px;width:12.2px;height:12.2px;border-radius:50%;background:#ff6969;box-shadow:0 0 0 1.6px rgba(255,255,255,0.95);"></div>
<svg style="position:absolute;left:1110.7px;top:2525.5px;" width="100.0" height="100.0" viewBox="0 0 100 100"><defs><clipPath id="cl13"><circle cx="50" cy="50" r="50"/></clipPath><linearGradient id="bg14" x1="0" x2="1"><stop offset="0" stop-color="#5d5b59"/><stop offset="0.12" stop-color="#8a8886"/><stop offset="0.2" stop-color="#6c6a68"/><stop offset="0.3" stop-color="#7b7977"/><stop offset="0.72" stop-color="#77716d"/><stop offset="0.76" stop-color="#a19e9b"/><stop offset="0.8" stop-color="#4a4644"/><stop offset="0.88" stop-color="#6b6866"/><stop offset="0.94" stop-color="#3c3937"/><stop offset="1" stop-color="#55524f"/></linearGradient><linearGradient id="fg15" x1="0" x2="1"><stop offset="0" stop-color="#c59a8b"/><stop offset="0.35" stop-color="#dcb3a4"/><stop offset="0.7" stop-color="#d6aa9b"/><stop offset="1" stop-color="#b58878"/></linearGradient><linearGradient id="hg16" x1="0" x2="1"><stop offset="0" stop-color="#7a5144"/><stop offset="0.3" stop-color="#5e3c32"/><stop offset="0.7" stop-color="#654135"/><stop offset="1" stop-color="#52322a"/></linearGradient></defs><g clip-path="url(#cl13)"><rect width="100" height="100" fill="url(#bg14)"/><path d="M30,10 C38,1 62,1 70,10 C78,20 80,45 86,72 C89,86 92,100 92,100 L8,100 C10,85 16,70 22,50 C25,35 24,20 30,10 Z" fill="url(#hg16)"/><path d="M42,56 L59,56 L61,74 L40,74 Z" fill="#b88c7d"/><path d="M37,71 C44,66.5 58,66.5 65,71 L72,100 L30,100 Z" fill="#85827e"/><path d="M41,70 C46,67.6 56,67.6 61,70" stroke="#9a9793" stroke-width="1.6" fill="none"/><ellipse cx="50.4" cy="39" rx="18" ry="22.5" fill="url(#fg15)"/><path d="M45,2.5 C36,10 33,24 33,40 C33,51 35,60 38,66 C39,78 40,90 42,100 L8,100 C13,82 20,62 24,46 C26,30 28,11 45,2.5 Z" fill="#6a463b"/><path d="M45,2.5 C58,5 66,16 68,30 C69,42 68,54 64.5,64 C64,76 63.5,90 63,100 L92,100 C88,80 82,60 78,42 C76,25 70,6 45,2.5 Z" fill="#5f3e34"/><path d="M40,10 C33,24 30,44 27,62 C25,76 22,90 20,100" stroke="#8c6152" stroke-width="1.8" fill="none" opacity="0.8"/><path d="M35,60 C33,74 32,88 31,100" stroke="#8f6455" stroke-width="1.6" fill="none" opacity="0.8"/><path d="M60,12 C68,26 72,46 76,64 C79,78 82,90 84,100" stroke="#6f463b" stroke-width="1.6" fill="none" opacity="0.8"/><ellipse cx="40.2" cy="30.8" rx="3.3" ry="1.35" fill="#4a3a36"/><ellipse cx="57.6" cy="30.8" rx="3.3" ry="1.35" fill="#4a3a36"/><path d="M35,27 C38,25.4 42,25.4 45.2,26.6" stroke="#5e4239" stroke-width="1.4" fill="none"/><path d="M52.8,26.6 C56,25.2 60,25.4 63.4,27.2" stroke="#5e4239" stroke-width="1.4" fill="none"/><path d="M46.4,39.4 C48,41.4 52,41.4 53.6,39.4" stroke="#a87868" stroke-width="1.1" fill="none"/><path d="M43.6,48.4 C46.5,47.2 53,47.2 56,48.4 C53,51 46.5,51 43.6,48.4 Z" fill="#b96c64"/></g></svg>
<span class="t" style="left:1112.0px;top:2635.4px;font-size:33px;line-height:33px;color:#f3f6fa;transform:scaleX(1.0250);-webkit-text-stroke:0.36px #f3f6fa;">Елена</span>
<div style="position:absolute;left:783.8px;top:2711.3px;width:224.1px;height:45.3px;box-sizing:border-box;border:2px solid #2f8fbe;border-radius:16px;background:radial-gradient(ellipse 65% 130% at 50% 50%,#12335f 0%,#0e2a56 50%,#0a204a 100%);"></div>
<span class="t" style="left:852.2px;top:2723.8px;font-size:20.6px;line-height:20.6px;color:#f1f4f8;transform:scaleX(1.0062);">Уведомления</span>
<svg style="position:absolute;left:812.0px;top:2720.0px;" width="26.0" height="28.0" viewBox="0 0 26 28"><g fill="none" stroke="#fff" stroke-width="2.1" stroke-linecap="round" stroke-linejoin="round"><path d="M4.6,20.5 V12.4 C4.6,6 7.6,1.7 12.1,1.7 C16.6,1.7 19.7,6 19.7,12.4 V20.5"/><path d="M1.4,20.5 H22.9"/><path d="M8,22 C8.6,26.4 15.6,26.4 16.2,22"/></g><circle cx="18.2" cy="9.4" r="6.6" fill="#10305c"/><circle cx="18.2" cy="9.4" r="5.6" fill="#f4605e"/><path d="M17.5,7.6 L18.6,6.9 V11.9" fill="none" stroke="#fff" stroke-width="0.8" stroke-linecap="round" stroke-linejoin="round" opacity="0.9"/></svg>
<div style="position:absolute;left:1064.5px;top:2711.3px;width:204.2px;height:45.3px;box-sizing:border-box;border:2px solid #2f8fbe;border-radius:16px;background:radial-gradient(ellipse 65% 130% at 50% 50%,#12335f 0%,#0e2a56 50%,#0a204a 100%);"></div>
<span class="t" style="left:1131.8px;top:2723.8px;font-size:20.6px;line-height:20.6px;color:#f1f4f8;transform:scaleX(1.0385);">Поддержка</span>
<svg style="position:absolute;left:1090.6px;top:2722.3px;" width="26.0" height="25.0" viewBox="0 0 26 25"><path d="M3.2,1.1 H21.8 A2.3,2.3 0 0 1 24.1,3.4 V15.8 A2.3,2.3 0 0 1 21.8,18.1 H6.6 L1.1,23 V3.4 A2.3,2.3 0 0 1 3.2,1.1 Z" fill="none" stroke="#fff" stroke-width="2.1" stroke-linejoin="round"/></svg>
<div style="position:absolute;left:1325.2px;top:2711.3px;width:214.4px;height:45.3px;box-sizing:border-box;border:2px solid #2f8fbe;border-radius:16px;background:radial-gradient(ellipse 65% 130% at 50% 50%,#12335f 0%,#0e2a56 50%,#0a204a 100%);"></div>
<span class="t" style="left:1392.2px;top:2723.8px;font-size:20.6px;line-height:20.6px;color:#f1f4f8;transform:scaleX(1.0486);">Достижения</span>
<svg style="position:absolute;left:1350.3px;top:2719.7px;" width="27.0" height="29.0" viewBox="0 0 27 29"><path d="M13.30,2.00 L17.18,9.26 L25.28,10.71 L19.58,16.64 L20.71,24.79 L13.30,21.20 L5.89,24.79 L7.02,16.64 L1.32,10.71 L9.42,9.26 Z" fill="none" stroke="#fff" stroke-width="4.6" stroke-linejoin="round"/><path d="M13.30,2.00 L17.18,9.26 L25.28,10.71 L19.58,16.64 L20.71,24.79 L13.30,21.20 L5.89,24.79 L7.02,16.64 L1.32,10.71 L9.42,9.26 Z" fill="#0f2c58" stroke="#0f2c58" stroke-width="0.9" stroke-linejoin="round"/><circle cx="19.6" cy="5.2" r="5.2" fill="#fff"/><circle cx="19.6" cy="5.2" r="4" fill="#f57c3a"/><path d="M19.6,2.9 L20.3,4.5 L22,4.6 L20.7,5.7 L21.1,7.4 L19.6,6.5 L18.1,7.4 L18.5,5.7 L17.2,4.6 L18.9,4.5 Z" fill="#fdd23a"/></svg>
<div style="position:absolute;left:627.3px;top:2783.2px;width:268.4px;height:196.4px;box-sizing:border-box;border:1px solid rgba(58,156,200,0.9);border-radius:14px;background:radial-gradient(ellipse 24% 34% at 92% 55%,rgba(62,92,130,0.75) 0%,rgba(50,85,125,0) 100%),linear-gradient(97deg,#2b7597 0%,#256588 18%,#1e5479 38%,#183f65 58%,#112d55 78%,#0c224b 100%);box-shadow:0 4px 14px rgba(0,0,0,0.3);"></div>
<svg style="position:absolute;left:862.0px;top:2796.0px;" width="20.0" height="20.0" viewBox="0 0 20.0 20.0"><circle cx="10.0" cy="10.0" r="8.30" fill="none" stroke="#2f9fc4" stroke-width="1.4"/><path d="M7.48,7.48L12.52,12.52M12.52,7.48L7.48,12.52" stroke="#2f9fc4" stroke-width="1.4" stroke-linecap="round"/></svg>
<span class="t" style="left:700.2px;top:2826.4px;font-size:17.7px;line-height:17.7px;color:#e0596c;transform:scaleX(1.0783);">Напоминание</span>
<span class="t" style="left:681.4px;top:2871.3px;font-size:13.7px;line-height:13.7px;color:#f3f6fa;transform:scaleX(1.0874);-webkit-text-stroke:0.12px #f3f6fa;">Завтра оплата кредита</span>
<span class="t" style="left:718.8px;top:2921.4px;font-size:13.7px;line-height:13.7px;color:#f3f6fa;transform:scaleX(1.0190);">23 333 рубля</span>
<div style="position:absolute;left:946.2px;top:2784.3px;width:390.6px;height:1067.6px;box-sizing:border-box;border:1px solid rgba(58,156,200,0.9);border-radius:15px;background:radial-gradient(ellipse 65% 18% at 100% 0%,rgba(10,30,72,0.5) 0%,rgba(10,30,72,0) 100%),linear-gradient(96deg,#2f7c9c 0%,#2b7495 12%,#246486 35%,#1d5276 60%,#173f63 85%,#15385b 100%);box-shadow:0 8px 26px rgba(0,0,0,0.5);"></div>
<svg style="position:absolute;left:1087.3px;top:2805.3px;" width="66.0" height="66.0" viewBox="0 0 100 100"><defs><clipPath id="cl17"><circle cx="50" cy="50" r="50"/></clipPath><linearGradient id="bg18" x1="0" x2="1"><stop offset="0" stop-color="#b4c1b6"/><stop offset="0.22" stop-color="#bac6bb"/><stop offset="0.5" stop-color="#8f9570"/><stop offset="0.78" stop-color="#747a48"/><stop offset="1" stop-color="#5f653a"/></linearGradient></defs><g clip-path="url(#cl17)"><rect width="100" height="100" fill="url(#bg18)"/><path d="M80,10 C90,30 84,50 96,70 L100,100 L70,100 Z" fill="#646a3c"/><path d="M18,42 C15,20 30,1 52,0 C70,0 81,14 81,34 C81,50 85,60 87,75 C89,88 85,100 85,100 L50,100 C56,88 60,76 58,62 L30,68 C24,64 20,54 18,42 Z" fill="#935329"/><path d="M23,28 C17,44 15,58 3,67 C12,69 21,64 27,55 Z" fill="#9d5a2b"/><path d="M3,68 C14,65 24,70 30,76 L44,93 L57,79 L64,100 L8,100 C3,90 1,78 3,68 Z" fill="#5c6436"/><path d="M30,76 L44,93 L40,100 L24,100 Z" fill="#4e5630"/><path d="M29,62 L46,70 L47,90 L44,93 L30,76 Z" fill="#dfb7a1"/><g transform="rotate(-14 45 46)"><ellipse cx="45" cy="45" rx="20.5" ry="28" fill="#edcbb8"/><ellipse cx="39" cy="40" rx="10" ry="16" fill="#f3d6c6" opacity="0.7"/></g><path d="M52,0 C44,9 46,18 53,25 C61,31 67,41 67,53 C67,63 61,71 56,80 C52,88 52,96 54,100 L84,100 C88,88 86,74 84,62 C80,48 80,20 52,0 Z" fill="#a35f2c"/><path d="M52,0 C38,3 27,13 23,30 C21,38 21,46 23,52 C25,41 29,27 40,19 C46,14 52,8 52,0 Z" fill="#9f5b2a"/><path d="M56,6 C66,14 72,28 73,44 C74,58 70,70 64,82" stroke="#c98c50" stroke-width="2.2" fill="none" opacity="0.85"/><path d="M62,60 C66,72 64,86 62,100" stroke="#cc9254" stroke-width="2" fill="none" opacity="0.8"/><path d="M46,4 C36,10 28,20 25,34" stroke="#c08247" stroke-width="2" fill="none" opacity="0.8"/><path d="M74,40 C80,56 80,76 76,100" stroke="#7e4721" stroke-width="2.4" fill="none" opacity="0.7"/><g transform="rotate(14 42 37)"><ellipse cx="42" cy="37" rx="3.6" ry="1.6" fill="#3c342e"/></g><g transform="rotate(18 61 43.5)"><ellipse cx="61" cy="43.5" rx="3.2" ry="1.5" fill="#3c342e"/></g><path d="M35.5,33 C39.5,30.6 45,31.6 48.6,34" stroke="#7d5331" stroke-width="1.5" fill="none"/><path d="M56,38 C60,37.6 64,39.6 66,42" stroke="#7d5331" stroke-width="1.5" fill="none"/><path d="M51,44 L48.2,52.4 L52.4,54" stroke="#cfa088" stroke-width="1.1" fill="none"/><path d="M36.8,57.8 C41,56.6 46.4,58.8 50.4,62 C46,65 40,63.6 36.8,57.8 Z" fill="#c27f70"/></g></svg>
<svg style="position:absolute;left:1276.8px;top:2812.6px;" width="30.6" height="30.6" viewBox="0 0 30.6 30.6"><circle cx="15.3" cy="15.3" r="13.45" fill="none" stroke="#2f9fc4" stroke-width="1.7"/><path d="M11.30,11.30L19.30,19.30M19.30,11.30L11.30,19.30" stroke="#2f9fc4" stroke-width="1.7" stroke-linecap="round"/></svg>
<span class="t" style="left:1085.7px;top:2881.2px;font-size:22px;line-height:22px;color:#f3f6fa;transform:scaleX(1.0868);-webkit-text-stroke:0.24px #f3f6fa;">Алена</span>
<span class="t" style="left:1064.8px;top:2914.6px;font-size:19px;line-height:19px;color:#9dbccb;transform:scaleX(1.0123);-webkit-text-stroke:0.21px #9dbccb;">Консультант</span>
<svg style="position:absolute;left:1191.6px;top:2912.4px;" width="24.0" height="23.6" viewBox="0 0 24 23.6"><path d="M5.2,1.6 C3.4,2.4 1.8,4.2 2.2,6.6 C3.2,12.6 9.6,19.6 16.2,21.6 C18.8,22.2 21,20.6 21.6,18.4 L17.4,15 L14.6,16.6 C11.6,15.2 8.8,12 7.6,9 L9.6,6.6 Z" fill="none" stroke="#2f9fc4" stroke-width="1.7" stroke-linejoin="round"/></svg>
<div style="position:absolute;left:987.3px;top:2950.0px;width:308.5px;height:36.6px;box-sizing:border-box;border:1.5px solid #2f97c6;border-radius:18.3px;background:rgba(30,90,130,0.15);"></div>
<span class="t" style="left:998.2px;top:2962.0px;font-size:13.7px;line-height:13.7px;color:#a9c2d2;transform:scaleX(1.0832);-webkit-text-stroke:0.15px #a9c2d2;">Поиск по чату</span>
<span class="t" style="left:1066.1px;top:3012.7px;font-size:17.3px;line-height:17.3px;color:#f0f5f9;transform:scaleX(1.0936);">6 декабря 2022 г.</span>
<div style="position:absolute;left:1052.9px;top:3058.5px;width:239.3px;height:104.6px;box-sizing:border-box;border:1.2px solid #2f97c6;border-radius:5px;background:rgba(20,70,110,0.18);"></div>
<svg style="position:absolute;left:1032.9px;top:3155.1px;" width="26.0" height="9.0" viewBox="0 0 26.0 9.0"><path d="M20.5,0.6 L0.8,7.4 H24" fill="none" stroke="#2f97c6" stroke-width="1.2" stroke-linejoin="round"/></svg>
<span class="t" style="left:1074.8px;top:3072.8px;font-size:16px;line-height:16px;color:#f0f5f9;transform:scaleX(1.1809);">Здравствуйте!</span>
<span class="t" style="left:1074.8px;top:3094.0px;font-size:16px;line-height:16px;color:#f0f5f9;transform:scaleX(1.1791);">Есть вопросы?</span>
<span class="t" style="left:1074.8px;top:3115.2px;font-size:16px;line-height:16px;color:#f0f5f9;transform:scaleX(1.1792);">Пишите, мы Вам</span>
<span class="t" style="left:1074.8px;top:3136.4px;font-size:16px;line-height:16px;color:#f0f5f9;transform:scaleX(1.2236);">поможем!</span>
<span class="t" style="left:1244.6px;top:3141.0px;font-size:10.5px;line-height:10.5px;color:#9fbccd;transform:scaleX(0.9895);">14:50</span>
<svg style="position:absolute;left:990.9px;top:3121.0px;" width="42.4" height="42.4" viewBox="0 0 100 100"><defs><clipPath id="cl19"><circle cx="50" cy="50" r="50"/></clipPath><linearGradient id="bg20" x1="0" x2="1"><stop offset="0" stop-color="#b4c1b6"/><stop offset="0.22" stop-color="#bac6bb"/><stop offset="0.5" stop-color="#8f9570"/><stop offset="0.78" stop-color="#747a48"/><stop offset="1" stop-color="#5f653a"/></linearGradient></defs><g clip-path="url(#cl19)"><rect width="100" height="100" fill="url(#bg20)"/><path d="M80,10 C90,30 84,50 96,70 L100,100 L70,100 Z" fill="#646a3c"/><path d="M18,42 C15,20 30,1 52,0 C70,0 81,14 81,34 C81,50 85,60 87,75 C89,88 85,100 85,100 L50,100 C56,88 60,76 58,62 L30,68 C24,64 20,54 18,42 Z" fill="#935329"/><path d="M23,28 C17,44 15,58 3,67 C12,69 21,64 27,55 Z" fill="#9d5a2b"/><path d="M3,68 C14,65 24,70 30,76 L44,93 L57,79 L64,100 L8,100 C3,90 1,78 3,68 Z" fill="#5c6436"/><path d="M30,76 L44,93 L40,100 L24,100 Z" fill="#4e5630"/><path d="M29,62 L46,70 L47,90 L44,93 L30,76 Z" fill="#dfb7a1"/><g transform="rotate(-14 45 46)"><ellipse cx="45" cy="45" rx="20.5" ry="28" fill="#edcbb8"/><ellipse cx="39" cy="40" rx="10" ry="16" fill="#f3d6c6" opacity="0.7"/></g><path d="M52,0 C44,9 46,18 53,25 C61,31 67,41 67,53 C67,63 61,71 56,80 C52,88 52,96 54,100 L84,100 C88,88 86,74 84,62 C80,48 80,20 52,0 Z" fill="#a35f2c"/><path d="M52,0 C38,3 27,13 23,30 C21,38 21,46 23,52 C25,41 29,27 40,19 C46,14 52,8 52,0 Z" fill="#9f5b2a"/><path d="M56,6 C66,14 72,28 73,44 C74,58 70,70 64,82" stroke="#c98c50" stroke-width="2.2" fill="none" opacity="0.85"/><path d="M62,60 C66,72 64,86 62,100" stroke="#cc9254" stroke-width="2" fill="none" opacity="0.8"/><path d="M46,4 C36,10 28,20 25,34" stroke="#c08247" stroke-width="2" fill="none" opacity="0.8"/><path d="M74,40 C80,56 80,76 76,100" stroke="#7e4721" stroke-width="2.4" fill="none" opacity="0.7"/><g transform="rotate(14 42 37)"><ellipse cx="42" cy="37" rx="3.6" ry="1.6" fill="#3c342e"/></g><g transform="rotate(18 61 43.5)"><ellipse cx="61" cy="43.5" rx="3.2" ry="1.5" fill="#3c342e"/></g><path d="M35.5,33 C39.5,30.6 45,31.6 48.6,34" stroke="#7d5331" stroke-width="1.5" fill="none"/><path d="M56,38 C60,37.6 64,39.6 66,42" stroke="#7d5331" stroke-width="1.5" fill="none"/><path d="M51,44 L48.2,52.4 L52.4,54" stroke="#cfa088" stroke-width="1.1" fill="none"/><path d="M36.8,57.8 C41,56.6 46.4,58.8 50.4,62 C46,65 40,63.6 36.8,57.8 Z" fill="#c27f70"/></g></svg>
<div style="position:absolute;left:991.2px;top:3191.5px;width:239.3px;height:146.1px;box-sizing:border-box;border:1.2px solid #2f97c6;border-radius:5px;background:rgba(20,70,110,0.18);"></div>
<svg style="position:absolute;left:1224.5px;top:3329.6px;" width="26.0" height="9.0" viewBox="0 0 26.0 9.0"><path d="M5.5,0.6 L25.2,7.4 H2" fill="none" stroke="#2f97c6" stroke-width="1.2" stroke-linejoin="round"/></svg>
<span class="t" style="left:1012.9px;top:3205.2px;font-size:16px;line-height:16px;color:#f0f5f9;transform:scaleX(1.2241);">Добрый вечер!</span>
<span class="t" style="left:1012.9px;top:3226.3px;font-size:16px;line-height:16px;color:#f0f5f9;transform:scaleX(1.1449);">Хочу</span>
<span class="t" style="left:1012.9px;top:3247.4px;font-size:16px;line-height:16px;color:#f0f5f9;transform:scaleX(1.2319);">порекомендовать</span>
<span class="t" style="left:1012.9px;top:3268.5px;font-size:16px;line-height:16px;color:#f0f5f9;transform:scaleX(1.1626);">Ваш сайт маме.</span>
<span class="t" style="left:1012.9px;top:3289.6px;font-size:16px;line-height:16px;color:#f0f5f9;transform:scaleX(1.1980);">Прилагаются ли за</span>
<span class="t" style="left:1012.9px;top:3310.7px;font-size:16px;line-height:16px;color:#f0f5f9;transform:scaleX(1.1813);">это бонусы?</span>
<span class="t" style="left:1157.7px;top:3315.2px;font-size:10.5px;line-height:10.5px;color:#9fbccd;transform:scaleX(0.9591);">18:32</span>
<svg style="position:absolute;left:1186.6px;top:3316.0px;" width="12.0" height="9.5" viewBox="0 0 12.0 9.5"><path d="M0.6,5 L3,8.4 L7.4,0.8 M5.4,6.4 L6.8,8.4 L11.2,0.8" fill="none" stroke="#2fa5a0" stroke-width="1" stroke-linecap="round" stroke-linejoin="round"/></svg>
<svg style="position:absolute;left:1249.7px;top:3295.3px;" width="42.2" height="42.2" viewBox="0 0 100 100"><defs><clipPath id="cl21"><circle cx="50" cy="50" r="50"/></clipPath><linearGradient id="bg22" x1="0" x2="1"><stop offset="0" stop-color="#5d5b59"/><stop offset="0.12" stop-color="#8a8886"/><stop offset="0.2" stop-color="#6c6a68"/><stop offset="0.3" stop-color="#7b7977"/><stop offset="0.72" stop-color="#77716d"/><stop offset="0.76" stop-color="#a19e9b"/><stop offset="0.8" stop-color="#4a4644"/><stop offset="0.88" stop-color="#6b6866"/><stop offset="0.94" stop-color="#3c3937"/><stop offset="1" stop-color="#55524f"/></linearGradient><linearGradient id="fg23" x1="0" x2="1"><stop offset="0" stop-color="#c59a8b"/><stop offset="0.35" stop-color="#dcb3a4"/><stop offset="0.7" stop-color="#d6aa9b"/><stop offset="1" stop-color="#b58878"/></linearGradient><linearGradient id="hg24" x1="0" x2="1"><stop offset="0" stop-color="#7a5144"/><stop offset="0.3" stop-color="#5e3c32"/><stop offset="0.7" stop-color="#654135"/><stop offset="1" stop-color="#52322a"/></linearGradient></defs><g clip-path="url(#cl21)"><rect width="100" height="100" fill="url(#bg22)"/><path d="M30,10 C38,1 62,1 70,10 C78,20 80,45 86,72 C89,86 92,100 92,100 L8,100 C10,85 16,70 22,50 C25,35 24,20 30,10 Z" fill="url(#hg24)"/><path d="M42,56 L59,56 L61,74 L40,74 Z" fill="#b88c7d"/><path d="M37,71 C44,66.5 58,66.5 65,71 L72,100 L30,100 Z" fill="#85827e"/><path d="M41,70 C46,67.6 56,67.6 61,70" stroke="#9a9793" stroke-width="1.6" fill="none"/><ellipse cx="50.4" cy="39" rx="18" ry="22.5" fill="url(#fg23)"/><path d="M45,2.5 C36,10 33,24 33,40 C33,51 35,60 38,66 C39,78 40,90 42,100 L8,100 C13,82 20,62 24,46 C26,30 28,11 45,2.5 Z" fill="#6a463b"/><path d="M45,2.5 C58,5 66,16 68,30 C69,42 68,54 64.5,64 C64,76 63.5,90 63,100 L92,100 C88,80 82,60 78,42 C76,25 70,6 45,2.5 Z" fill="#5f3e34"/><path d="M40,10 C33,24 30,44 27,62 C25,76 22,90 20,100" stroke="#8c6152" stroke-width="1.8" fill="none" opacity="0.8"/><path d="M35,60 C33,74 32,88 31,100" stroke="#8f6455" stroke-width="1.6" fill="none" opacity="0.8"/><path d="M60,12 C68,26 72,46 76,64 C79,78 82,90 84,100" stroke="#6f463b" stroke-width="1.6" fill="none" opacity="0.8"/><ellipse cx="40.2" cy="30.8" rx="3.3" ry="1.35" fill="#4a3a36"/><ellipse cx="57.6" cy="30.8" rx="3.3" ry="1.35" fill="#4a3a36"/><path d="M35,27 C38,25.4 42,25.4 45.2,26.6" stroke="#5e4239" stroke-width="1.4" fill="none"/><path d="M52.8,26.6 C56,25.2 60,25.4 63.4,27.2" stroke="#5e4239" stroke-width="1.4" fill="none"/><path d="M46.4,39.4 C48,41.4 52,41.4 53.6,39.4" stroke="#a87868" stroke-width="1.1" fill="none"/><path d="M43.6,48.4 C46.5,47.2 53,47.2 56,48.4 C53,51 46.5,51 43.6,48.4 Z" fill="#b96c64"/></g></svg>
<div style="position:absolute;left:1040.5px;top:3365.8px;width:264.0px;height:146.3px;box-sizing:border-box;border:1.2px solid #2f97c6;border-radius:5px;background:rgba(20,70,110,0.18);"></div>
<svg style="position:absolute;left:1020.5px;top:3504.1px;" width="26.0" height="9.0" viewBox="0 0 26.0 9.0"><path d="M20.5,0.6 L0.8,7.4 H24" fill="none" stroke="#2f97c6" stroke-width="1.2" stroke-linejoin="round"/></svg>
<span class="t" style="left:1063.3px;top:3379.5px;font-size:16px;line-height:16px;color:#f0f5f9;transform:scaleX(1.1699);">Здравствуйте, Елена!</span>
<span class="t" style="left:1063.3px;top:3400.6px;font-size:16px;line-height:16px;color:#f0f5f9;transform:scaleX(1.2103);">Поделитесь</span>
<span class="t" style="left:1063.3px;top:3421.8px;font-size:16px;line-height:16px;color:#f0f5f9;transform:scaleX(1.2274);">персональной ссылкой</span>
<span class="t" style="left:1063.3px;top:3442.9px;font-size:16px;line-height:16px;color:#f0f5f9;transform:scaleX(1.1937);">и получить за это</span>
<span class="t" style="left:1063.3px;top:3464.1px;font-size:16px;line-height:16px;color:#f0f5f9;transform:scaleX(1.2443);">вознаграждение</span>
<span class="t" style="left:1063.3px;top:3485.2px;font-size:16px;line-height:16px;color:#f0f5f9;transform:scaleX(1.1941);">«Приведите друга»</span>
<span class="t" style="left:1255.1px;top:3489.7px;font-size:10.5px;line-height:10.5px;color:#9fbccd;transform:scaleX(0.9591);">18:35</span>
<svg style="position:absolute;left:978.1px;top:3469.5px;" width="42.6" height="42.6" viewBox="0 0 100 100"><defs><clipPath id="cl25"><circle cx="50" cy="50" r="50"/></clipPath><linearGradient id="bg26" x1="0" x2="1"><stop offset="0" stop-color="#b4c1b6"/><stop offset="0.22" stop-color="#bac6bb"/><stop offset="0.5" stop-color="#8f9570"/><stop offset="0.78" stop-color="#747a48"/><stop offset="1" stop-color="#5f653a"/></linearGradient></defs><g clip-path="url(#cl25)"><rect width="100" height="100" fill="url(#bg26)"/><path d="M80,10 C90,30 84,50 96,70 L100,100 L70,100 Z" fill="#646a3c"/><path d="M18,42 C15,20 30,1 52,0 C70,0 81,14 81,34 C81,50 85,60 87,75 C89,88 85,100 85,100 L50,100 C56,88 60,76 58,62 L30,68 C24,64 20,54 18,42 Z" fill="#935329"/><path d="M23,28 C17,44 15,58 3,67 C12,69 21,64 27,55 Z" fill="#9d5a2b"/><path d="M3,68 C14,65 24,70 30,76 L44,93 L57,79 L64,100 L8,100 C3,90 1,78 3,68 Z" fill="#5c6436"/><path d="M30,76 L44,93 L40,100 L24,100 Z" fill="#4e5630"/><path d="M29,62 L46,70 L47,90 L44,93 L30,76 Z" fill="#dfb7a1"/><g transform="rotate(-14 45 46)"><ellipse cx="45" cy="45" rx="20.5" ry="28" fill="#edcbb8"/><ellipse cx="39" cy="40" rx="10" ry="16" fill="#f3d6c6" opacity="0.7"/></g><path d="M52,0 C44,9 46,18 53,25 C61,31 67,41 67,53 C67,63 61,71 56,80 C52,88 52,96 54,100 L84,100 C88,88 86,74 84,62 C80,48 80,20 52,0 Z" fill="#a35f2c"/><path d="M52,0 C38,3 27,13 23,30 C21,38 21,46 23,52 C25,41 29,27 40,19 C46,14 52,8 52,0 Z" fill="#9f5b2a"/><path d="M56,6 C66,14 72,28 73,44 C74,58 70,70 64,82" stroke="#c98c50" stroke-width="2.2" fill="none" opacity="0.85"/><path d="M62,60 C66,72 64,86 62,100" stroke="#cc9254" stroke-width="2" fill="none" opacity="0.8"/><path d="M46,4 C36,10 28,20 25,34" stroke="#c08247" stroke-width="2" fill="none" opacity="0.8"/><path d="M74,40 C80,56 80,76 76,100" stroke="#7e4721" stroke-width="2.4" fill="none" opacity="0.7"/><g transform="rotate(14 42 37)"><ellipse cx="42" cy="37" rx="3.6" ry="1.6" fill="#3c342e"/></g><g transform="rotate(18 61 43.5)"><ellipse cx="61" cy="43.5" rx="3.2" ry="1.5" fill="#3c342e"/></g><path d="M35.5,33 C39.5,30.6 45,31.6 48.6,34" stroke="#7d5331" stroke-width="1.5" fill="none"/><path d="M56,38 C60,37.6 64,39.6 66,42" stroke="#7d5331" stroke-width="1.5" fill="none"/><path d="M51,44 L48.2,52.4 L52.4,54" stroke="#cfa088" stroke-width="1.1" fill="none"/><path d="M36.8,57.8 C41,56.6 46.4,58.8 50.4,62 C46,65 40,63.6 36.8,57.8 Z" fill="#c27f70"/></g></svg>
<div style="position:absolute;left:991.3px;top:3540.2px;width:239.1px;height:53.2px;box-sizing:border-box;border:1.2px solid #2f97c6;border-radius:5px;background:rgba(20,70,110,0.18);"></div>
<svg style="position:absolute;left:1224.4px;top:3585.4px;" width="26.0" height="9.0" viewBox="0 0 26.0 9.0"><path d="M5.5,0.6 L25.2,7.4 H2" fill="none" stroke="#2f97c6" stroke-width="1.2" stroke-linejoin="round"/></svg>
<span class="t" style="left:1012.6px;top:3555.3px;font-size:16px;line-height:16px;color:#f0f5f9;transform:scaleX(1.1969);">Здорово! Спасибо!</span>
<span class="t" style="left:1012.6px;top:3571.9px;font-size:10.5px;line-height:10.5px;color:#9fbccd;transform:scaleX(0.9819);">19:02</span>
<svg style="position:absolute;left:1043.2px;top:3572.6px;" width="12.0" height="9.5" viewBox="0 0 12.0 9.5"><path d="M0.6,5 L3,8.4 L7.4,0.8 M5.4,6.4 L6.8,8.4 L11.2,0.8" fill="none" stroke="#2fa5a0" stroke-width="1" stroke-linecap="round" stroke-linejoin="round"/></svg>
<svg style="position:absolute;left:1249.8px;top:3551.2px;" width="41.8" height="41.8" viewBox="0 0 100 100"><defs><clipPath id="cl27"><circle cx="50" cy="50" r="50"/></clipPath><linearGradient id="bg28" x1="0" x2="1"><stop offset="0" stop-color="#5d5b59"/><stop offset="0.12" stop-color="#8a8886"/><stop offset="0.2" stop-color="#6c6a68"/><stop offset="0.3" stop-color="#7b7977"/><stop offset="0.72" stop-color="#77716d"/><stop offset="0.76" stop-color="#a19e9b"/><stop offset="0.8" stop-color="#4a4644"/><stop offset="0.88" stop-color="#6b6866"/><stop offset="0.94" stop-color="#3c3937"/><stop offset="1" stop-color="#55524f"/></linearGradient><linearGradient id="fg29" x1="0" x2="1"><stop offset="0" stop-color="#c59a8b"/><stop offset="0.35" stop-color="#dcb3a4"/><stop offset="0.7" stop-color="#d6aa9b"/><stop offset="1" stop-color="#b58878"/></linearGradient><linearGradient id="hg30" x1="0" x2="1"><stop offset="0" stop-color="#7a5144"/><stop offset="0.3" stop-color="#5e3c32"/><stop offset="0.7" stop-color="#654135"/><stop offset="1" stop-color="#52322a"/></linearGradient></defs><g clip-path="url(#cl27)"><rect width="100" height="100" fill="url(#bg28)"/><path d="M30,10 C38,1 62,1 70,10 C78,20 80,45 86,72 C89,86 92,100 92,100 L8,100 C10,85 16,70 22,50 C25,35 24,20 30,10 Z" fill="url(#hg30)"/><path d="M42,56 L59,56 L61,74 L40,74 Z" fill="#b88c7d"/><path d="M37,71 C44,66.5 58,66.5 65,71 L72,100 L30,100 Z" fill="#85827e"/><path d="M41,70 C46,67.6 56,67.6 61,70" stroke="#9a9793" stroke-width="1.6" fill="none"/><ellipse cx="50.4" cy="39" rx="18" ry="22.5" fill="url(#fg29)"/><path d="M45,2.5 C36,10 33,24 33,40 C33,51 35,60 38,66 C39,78 40,90 42,100 L8,100 C13,82 20,62 24,46 C26,30 28,11 45,2.5 Z" fill="#6a463b"/><path d="M45,2.5 C58,5 66,16 68,30 C69,42 68,54 64.5,64 C64,76 63.5,90 63,100 L92,100 C88,80 82,60 78,42 C76,25 70,6 45,2.5 Z" fill="#5f3e34"/><path d="M40,10 C33,24 30,44 27,62 C25,76 22,90 20,100" stroke="#8c6152" stroke-width="1.8" fill="none" opacity="0.8"/><path d="M35,60 C33,74 32,88 31,100" stroke="#8f6455" stroke-width="1.6" fill="none" opacity="0.8"/><path d="M60,12 C68,26 72,46 76,64 C79,78 82,90 84,100" stroke="#6f463b" stroke-width="1.6" fill="none" opacity="0.8"/><ellipse cx="40.2" cy="30.8" rx="3.3" ry="1.35" fill="#4a3a36"/><ellipse cx="57.6" cy="30.8" rx="3.3" ry="1.35" fill="#4a3a36"/><path d="M35,27 C38,25.4 42,25.4 45.2,26.6" stroke="#5e4239" stroke-width="1.4" fill="none"/><path d="M52.8,26.6 C56,25.2 60,25.4 63.4,27.2" stroke="#5e4239" stroke-width="1.4" fill="none"/><path d="M46.4,39.4 C48,41.4 52,41.4 53.6,39.4" stroke="#a87868" stroke-width="1.1" fill="none"/><path d="M43.6,48.4 C46.5,47.2 53,47.2 56,48.4 C53,51 46.5,51 43.6,48.4 Z" fill="#b96c64"/></g></svg>
<div style="position:absolute;left:1051.6px;top:3621.9px;width:241.8px;height:62.0px;box-sizing:border-box;border:1.2px solid #2f97c6;border-radius:5px;background:rgba(20,70,110,0.18);"></div>
<svg style="position:absolute;left:1031.6px;top:3675.9px;" width="26.0" height="9.0" viewBox="0 0 26.0 9.0"><path d="M20.5,0.6 L0.8,7.4 H24" fill="none" stroke="#2f97c6" stroke-width="1.2" stroke-linejoin="round"/></svg>
<span class="t" style="left:1075.0px;top:3636.3px;font-size:16px;line-height:16px;color:#f0f5f9;transform:scaleX(1.1950);">Могу еще чем-то</span>
<span class="t" style="left:1075.0px;top:3657.3px;font-size:16px;line-height:16px;color:#f0f5f9;transform:scaleX(1.1886);">помочь?</span>
<span class="t" style="left:1240.2px;top:3661.9px;font-size:10.5px;line-height:10.5px;color:#9fbccd;transform:scaleX(1.0200);">19:04</span>
<svg style="position:absolute;left:989.3px;top:3641.5px;" width="42.6" height="42.6" viewBox="0 0 100 100"><defs><clipPath id="cl31"><circle cx="50" cy="50" r="50"/></clipPath><linearGradient id="bg32" x1="0" x2="1"><stop offset="0" stop-color="#b4c1b6"/><stop offset="0.22" stop-color="#bac6bb"/><stop offset="0.5" stop-color="#8f9570"/><stop offset="0.78" stop-color="#747a48"/><stop offset="1" stop-color="#5f653a"/></linearGradient></defs><g clip-path="url(#cl31)"><rect width="100" height="100" fill="url(#bg32)"/><path d="M80,10 C90,30 84,50 96,70 L100,100 L70,100 Z" fill="#646a3c"/><path d="M18,42 C15,20 30,1 52,0 C70,0 81,14 81,34 C81,50 85,60 87,75 C89,88 85,100 85,100 L50,100 C56,88 60,76 58,62 L30,68 C24,64 20,54 18,42 Z" fill="#935329"/><path d="M23,28 C17,44 15,58 3,67 C12,69 21,64 27,55 Z" fill="#9d5a2b"/><path d="M3,68 C14,65 24,70 30,76 L44,93 L57,79 L64,100 L8,100 C3,90 1,78 3,68 Z" fill="#5c6436"/><path d="M30,76 L44,93 L40,100 L24,100 Z" fill="#4e5630"/><path d="M29,62 L46,70 L47,90 L44,93 L30,76 Z" fill="#dfb7a1"/><g transform="rotate(-14 45 46)"><ellipse cx="45" cy="45" rx="20.5" ry="28" fill="#edcbb8"/><ellipse cx="39" cy="40" rx="10" ry="16" fill="#f3d6c6" opacity="0.7"/></g><path d="M52,0 C44,9 46,18 53,25 C61,31 67,41 67,53 C67,63 61,71 56,80 C52,88 52,96 54,100 L84,100 C88,88 86,74 84,62 C80,48 80,20 52,0 Z" fill="#a35f2c"/><path d="M52,0 C38,3 27,13 23,30 C21,38 21,46 23,52 C25,41 29,27 40,19 C46,14 52,8 52,0 Z" fill="#9f5b2a"/><path d="M56,6 C66,14 72,28 73,44 C74,58 70,70 64,82" stroke="#c98c50" stroke-width="2.2" fill="none" opacity="0.85"/><path d="M62,60 C66,72 64,86 62,100" stroke="#cc9254" stroke-width="2" fill="none" opacity="0.8"/><path d="M46,4 C36,10 28,20 25,34" stroke="#c08247" stroke-width="2" fill="none" opacity="0.8"/><path d="M74,40 C80,56 80,76 76,100" stroke="#7e4721" stroke-width="2.4" fill="none" opacity="0.7"/><g transform="rotate(14 42 37)"><ellipse cx="42" cy="37" rx="3.6" ry="1.6" fill="#3c342e"/></g><g transform="rotate(18 61 43.5)"><ellipse cx="61" cy="43.5" rx="3.2" ry="1.5" fill="#3c342e"/></g><path d="M35.5,33 C39.5,30.6 45,31.6 48.6,34" stroke="#7d5331" stroke-width="1.5" fill="none"/><path d="M56,38 C60,37.6 64,39.6 66,42" stroke="#7d5331" stroke-width="1.5" fill="none"/><path d="M51,44 L48.2,52.4 L52.4,54" stroke="#cfa088" stroke-width="1.1" fill="none"/><path d="M36.8,57.8 C41,56.6 46.4,58.8 50.4,62 C46,65 40,63.6 36.8,57.8 Z" fill="#c27f70"/></g></svg>
<div style="position:absolute;left:986.6px;top:3708.9px;width:306.8px;height:120.6px;box-sizing:border-box;border:1.2px solid #2f97c6;border-radius:4px;background:rgba(20,70,110,0.12);"></div>
<span class="t" style="left:996.0px;top:3721.3px;font-size:16px;line-height:16px;color:#6c9cb6;transform:scaleX(1.2000);">Введите сообщение</span>
<span class="t" style="left:996.0px;top:3742.3px;font-size:16px;line-height:16px;color:#6c9cb6;transform:scaleX(1.2000);">или номер телефона</span>
<span class="t" style="left:996.0px;top:3763.3px;font-size:16px;line-height:16px;color:#6c9cb6;transform:scaleX(1.2000);">(перезвоним мгновенно)</span>
<div style="position:absolute;left:1400.2px;top:2783.2px;width:274.5px;height:434.2px;box-sizing:border-box;border:1px solid rgba(58,156,200,0.9);border-radius:13px;background:linear-gradient(87deg,#2c7698 0%,#256488 25%,#1b486c 50%,#112d53 75%,#08173d 100%);box-shadow:0 8px 22px rgba(0,0,0,0.45);"></div>
<span class="t" style="left:1493.0px;top:2815.3px;font-size:19.8px;line-height:19.8px;font-weight:bold;color:#f3f6fa;transform:scaleX(1.1116);">Награда</span>
<svg style="position:absolute;left:1635.5px;top:2802.9px;" width="19.5" height="19.5" viewBox="0 0 19.5 19.5"><path d="M1,1L18.5,18.5M18.5,1L1,18.5" stroke="#2f9fd0" stroke-width="1.5" stroke-linecap="round"/></svg>
<span class="t" style="left:1477.9px;top:2854.5px;font-size:15.7px;line-height:15.7px;color:#eef3f8;transform:scaleX(1.1619);-webkit-text-stroke:0.17px #eef3f8;">Поздравляем!</span>
<span class="t" style="left:1446.1px;top:2874.6px;font-size:15.7px;line-height:15.7px;color:#eef3f8;transform:scaleX(1.1673);-webkit-text-stroke:0.17px #eef3f8;">Вы получили награду</span>
<span class="t" style="left:1469.9px;top:2894.6px;font-size:15.7px;line-height:15.7px;color:#eef3f8;transform:scaleX(1.1855);-webkit-text-stroke:0.17px #eef3f8;">за регистрацию</span>
<svg style="position:absolute;left:1457.5px;top:2929.1px;" width="160.2" height="160.2" viewBox="-5 -5 160 160"><defs><filter id="m33" x="-20%" y="-20%" width="140%" height="140%"><feGaussianBlur stdDeviation="2.6"/></filter></defs><circle cx="75" cy="80" r="71" fill="#000" opacity="0.28" filter="url(#m33)"/><circle cx="75" cy="75" r="77" fill="#fbb61c" opacity="0.35" filter="url(#m33)"/><circle cx="75" cy="75" r="75" fill="#fbb61c"/><g opacity="1"><path d="M37.7,37 H112 V68.7 L74.8,92 L37.7,68.7 Z" fill="#3e6a94"/><path d="M52.9,37 H61.3 V83.5 L52.9,78.2 Z" fill="#3b8a9e"/><rect x="70.4" y="37" width="8.9" height="54" fill="#3b8a9e"/><path d="M88.4,37 H96.8 V78.2 L88.4,83.5 Z" fill="#3b8a9e"/></g><g opacity="1"><rect x="29.2" y="24" width="91.1" height="13.1" rx="2.6" fill="#fac340"/><path d="M74.8,24 H117.7 A2.6,2.6 0 0 1 120.3,26.6 V34.5 A2.6,2.6 0 0 1 117.7,37.1 H74.8 Z" fill="#fcd568"/><path d="M29.2,33.3 H74.8 V37.1 H31.8 A2.6,2.6 0 0 1 29.2,34.5 Z" fill="#f6a723"/><path d="M74.8,33.3 H120.3 V34.5 A2.6,2.6 0 0 1 117.7,37.1 H74.8 Z" fill="#fbc344"/><rect x="81.3" y="25.3" width="32.9" height="4.3" rx="2.1" fill="#fff4cf"/></g><g opacity="1"><circle cx="74.8" cy="101.2" r="29.9" fill="#fcc84b"/><path d="M74.8,71.30000000000001 A29.9,29.9 0 0 1 74.8,131.1 Z" fill="#fdd988"/><circle cx="74.8" cy="101.2" r="24.7" fill="none" stroke="#f08a2a" stroke-width="1.2"/><circle cx="74.8" cy="101.2" r="20.5" fill="#ec7d2c"/><path d="M74.8,80.7 A20.5,20.5 0 0 1 74.8,121.7 Z" fill="#f59c27"/><polygon points="74.80,86.10 78.68,96.46 89.73,96.95 81.08,103.84 84.03,114.50 74.80,108.40 65.57,114.50 68.52,103.84 59.87,96.95 70.92,96.46" fill="#f6ebf5"/></g><path d="M29.2,71.3 C29.98,78.7 31.8,80.52 39.2,81.3 C31.8,82.08 29.98,83.89999999999999 29.2,91.3 C28.419999999999998,83.89999999999999 26.599999999999998,82.08 19.2,81.3 C26.599999999999998,80.52 28.419999999999998,78.7 29.2,71.3 Z" fill="#fdd47a" opacity="0.95" stroke="#fdd47a" stroke-width="1.3" stroke-linejoin="round"/><path d="M118,85.6 C118.585,91.14999999999999 119.95,92.515 125.5,93.1 C119.95,93.68499999999999 118.585,95.05 118,100.6 C117.415,95.05 116.05,93.68499999999999 110.5,93.1 C116.05,92.515 117.415,91.14999999999999 118,85.6 Z" fill="#fdd47a" opacity="0.95" stroke="#fdd47a" stroke-width="1.3" stroke-linejoin="round"/><path d="M105.7,99.6 C106.4956,107.148 108.352,109.0044 115.9,109.8 C108.352,110.59559999999999 106.4956,112.452 105.7,120.0 C104.90440000000001,112.452 103.048,110.59559999999999 95.5,109.8 C103.048,109.0044 104.90440000000001,107.148 105.7,99.6 Z" fill="#fffdf2" opacity="1" stroke="#fffdf2" stroke-width="1.3" stroke-linejoin="round"/></svg>
<span class="t" style="left:1483.7px;top:3092.5px;font-size:16px;line-height:16px;color:#eef3f8;transform:scaleX(1.1525);-webkit-text-stroke:0.18px #eef3f8;">Регистрация</span>
<span class="t" style="left:1503.0px;top:3127.2px;font-size:15.2px;line-height:15.2px;color:#eef3f8;transform:scaleX(1.0293);">06.12.22</span>
<span class="t" style="left:1496.4px;top:3162.7px;font-size:16px;line-height:16px;color:#e6edf4;transform:scaleX(1.1416);-webkit-text-stroke:0.18px #e6edf4;">Получено</span>
<div style="position:absolute;left:1715.2px;top:2783.2px;width:274.5px;height:435.3px;box-sizing:border-box;border:1px solid rgba(58,156,200,0.9);border-radius:13px;background:linear-gradient(87deg,#2c7698 0%,#256488 25%,#1b486c 50%,#112d53 75%,#08173d 100%);box-shadow:0 8px 22px rgba(0,0,0,0.45);"></div>
<span class="t" style="left:1808.0px;top:2807.1px;font-size:19.8px;line-height:19.8px;font-weight:bold;color:#f3f6fa;transform:scaleX(1.1116);">Награда</span>
<svg style="position:absolute;left:1950.5px;top:2802.9px;" width="19.5" height="19.5" viewBox="0 0 19.5 19.5"><path d="M1,1L18.5,18.5M18.5,1L1,18.5" stroke="#2f9fd0" stroke-width="1.5" stroke-linecap="round"/></svg>
<span class="t" style="left:1792.9px;top:2846.3px;font-size:15.7px;line-height:15.7px;color:#eef3f8;transform:scaleX(1.1619);-webkit-text-stroke:0.17px #eef3f8;">Поздравляем!</span>
<span class="t" style="left:1761.1px;top:2866.4px;font-size:15.7px;line-height:15.7px;color:#eef3f8;transform:scaleX(1.1673);-webkit-text-stroke:0.17px #eef3f8;">Вы получили награду</span>
<span class="t" style="left:1757.4px;top:2886.4px;font-size:15.7px;line-height:15.7px;color:#eef3f8;transform:scaleX(1.1818);-webkit-text-stroke:0.17px #eef3f8;">за приглашение друга</span>
<svg style="position:absolute;left:1772.5px;top:2921.3px;" width="160.2" height="160.2" viewBox="-5 -5 160 160"><defs><filter id="m34" x="-20%" y="-20%" width="140%" height="140%"><feGaussianBlur stdDeviation="2.6"/></filter></defs><circle cx="75" cy="80" r="71" fill="#000" opacity="0.28" filter="url(#m34)"/><circle cx="75" cy="75" r="77" fill="#ff6a6a" opacity="0.35" filter="url(#m34)"/><circle cx="75" cy="75" r="75" fill="#ff6a6a"/><g opacity="1"><path d="M37.7,37 H112 V68.7 L74.8,92 L37.7,68.7 Z" fill="#3e6a94"/><path d="M52.9,37 H61.3 V83.5 L52.9,78.2 Z" fill="#3b8a9e"/><rect x="70.4" y="37" width="8.9" height="54" fill="#3b8a9e"/><path d="M88.4,37 H96.8 V78.2 L88.4,83.5 Z" fill="#3b8a9e"/></g><g opacity="1"><rect x="29.2" y="24" width="91.1" height="13.1" rx="2.6" fill="#fac340"/><path d="M74.8,24 H117.7 A2.6,2.6 0 0 1 120.3,26.6 V34.5 A2.6,2.6 0 0 1 117.7,37.1 H74.8 Z" fill="#fcd568"/><path d="M29.2,33.3 H74.8 V37.1 H31.8 A2.6,2.6 0 0 1 29.2,34.5 Z" fill="#f6a723"/><path d="M74.8,33.3 H120.3 V34.5 A2.6,2.6 0 0 1 117.7,37.1 H74.8 Z" fill="#fbc344"/><rect x="81.3" y="25.3" width="32.9" height="4.3" rx="2.1" fill="#fff4cf"/></g><g opacity="1"><circle cx="74.8" cy="101.2" r="29.9" fill="#fcc84b"/><path d="M74.8,71.30000000000001 A29.9,29.9 0 0 1 74.8,131.1 Z" fill="#fdd988"/><circle cx="74.8" cy="101.2" r="24.7" fill="none" stroke="#f08a2a" stroke-width="1.2"/><circle cx="74.8" cy="101.2" r="20.5" fill="#ec7d2c"/><path d="M74.8,80.7 A20.5,20.5 0 0 1 74.8,121.7 Z" fill="#f59c27"/><polygon points="74.80,86.10 78.68,96.46 89.73,96.95 81.08,103.84 84.03,114.50 74.80,108.40 65.57,114.50 68.52,103.84 59.87,96.95 70.92,96.46" fill="#f6ebf5"/></g><path d="M29.2,71.3 C29.98,78.7 31.8,80.52 39.2,81.3 C31.8,82.08 29.98,83.89999999999999 29.2,91.3 C28.419999999999998,83.89999999999999 26.599999999999998,82.08 19.2,81.3 C26.599999999999998,80.52 28.419999999999998,78.7 29.2,71.3 Z" fill="#fdd47a" opacity="0.95" stroke="#fdd47a" stroke-width="1.3" stroke-linejoin="round"/><path d="M118,85.6 C118.585,91.14999999999999 119.95,92.515 125.5,93.1 C119.95,93.68499999999999 118.585,95.05 118,100.6 C117.415,95.05 116.05,93.68499999999999 110.5,93.1 C116.05,92.515 117.415,91.14999999999999 118,85.6 Z" fill="#fdd47a" opacity="0.95" stroke="#fdd47a" stroke-width="1.3" stroke-linejoin="round"/><path d="M105.7,99.6 C106.4956,107.148 108.352,109.0044 115.9,109.8 C108.352,110.59559999999999 106.4956,112.452 105.7,120.0 C104.90440000000001,112.452 103.048,110.59559999999999 95.5,109.8 C103.048,109.0044 104.90440000000001,107.148 105.7,99.6 Z" fill="#fffdf2" opacity="1" stroke="#fffdf2" stroke-width="1.3" stroke-linejoin="round"/></svg>
<span class="t" style="left:1777.6px;top:3084.3px;font-size:16px;line-height:16px;color:#eef3f8;transform:scaleX(1.1465);-webkit-text-stroke:0.18px #eef3f8;">Пригласите друга</span>
<span class="t" style="left:1819.1px;top:3119.1px;font-size:15.2px;line-height:15.2px;color:#eef3f8;transform:scaleX(0.9904);">22.12.22</span>
<div style="position:absolute;left:1768.7px;top:3146.3px;width:167.6px;height:51.6px;box-sizing:border-box;border:1px solid rgba(120,190,220,0.55);border-radius:26px;background:radial-gradient(ellipse 60% 90% at 30% 70%,rgba(70,160,195,0.85) 0%,rgba(50,130,170,0.35) 60%,rgba(40,110,150,0) 100%),linear-gradient(95deg,#2f7fa3 0%,#266b92 40%,#1a4f7b 75%,#153f6b 100%);box-shadow:0 3px 10px rgba(0,0,0,0.35), inset 0 1px 3px rgba(255,255,255,0.18);"></div>
<span class="t" style="left:1813.2px;top:3165.0px;font-size:16.4px;line-height:16.4px;color:#f3f6fa;transform:scaleX(1.1099);-webkit-text-stroke:0.18px #f3f6fa;">Получить</span>
<div style="position:absolute;left:1454.1px;top:3251.5px;width:274.5px;height:433.6px;box-sizing:border-box;border:1px solid rgba(58,156,200,0.9);border-radius:13px;background:radial-gradient(ellipse 55% 16% at 78% 90%,rgba(70,120,160,0.5) 0%,rgba(60,110,150,0) 100%),linear-gradient(87deg,#2c7698 0%,#256488 25%,#1b486c 50%,#112d53 75%,#08173d 100%);box-shadow:0 8px 22px rgba(0,0,0,0.45);"></div>
<span class="t" style="left:1546.9px;top:3308.8px;font-size:19.8px;line-height:19.8px;font-weight:bold;color:#f3f6fa;transform:scaleX(1.1116);">Награда</span>
<svg style="position:absolute;left:1689.8px;top:3271.1px;" width="19.5" height="19.5" viewBox="0 0 19.5 19.5"><path d="M1,1L18.5,18.5M18.5,1L1,18.5" stroke="#2f9fd0" stroke-width="1.5" stroke-linecap="round"/></svg>
<span class="t" style="left:1506.0px;top:3348.5px;font-size:15.7px;line-height:15.7px;color:#eef3f8;transform:scaleX(1.1716);-webkit-text-stroke:0.17px #eef3f8;">Для получения этой</span>
<span class="t" style="left:1507.5px;top:3368.6px;font-size:15.7px;line-height:15.7px;color:#eef3f8;transform:scaleX(1.1638);-webkit-text-stroke:0.17px #eef3f8;">награды Вам нужно</span>
<span class="t" style="left:1506.2px;top:3388.6px;font-size:15.7px;line-height:15.7px;color:#eef3f8;transform:scaleX(1.1801);-webkit-text-stroke:0.17px #eef3f8;">оформить подписку</span>
<svg style="position:absolute;left:1512.1px;top:3429.8px;" width="158.7" height="158.7" viewBox="-5 -5 160 160"><defs><filter id="m35" x="-20%" y="-20%" width="140%" height="140%"><feGaussianBlur stdDeviation="2.6"/></filter></defs><circle cx="75" cy="80" r="71" fill="#000" opacity="0.28" filter="url(#m35)"/><circle cx="75" cy="75" r="75" fill="#2b7a9b"/><g opacity="0.16"><path d="M37.7,37 H112 V68.7 L74.8,92 L37.7,68.7 Z" fill="#8fb6cf"/><path d="M52.9,37 H61.3 V83.5 L52.9,78.2 Z" fill="#a9cbdc"/><rect x="70.4" y="37" width="8.9" height="54" fill="#a9cbdc"/><path d="M88.4,37 H96.8 V78.2 L88.4,83.5 Z" fill="#a9cbdc"/></g><g opacity="0.74"><rect x="29.2" y="24" width="91.1" height="13.1" rx="2.6" fill="#fac340"/><path d="M74.8,24 H117.7 A2.6,2.6 0 0 1 120.3,26.6 V34.5 A2.6,2.6 0 0 1 117.7,37.1 H74.8 Z" fill="#fcd568"/><path d="M29.2,33.3 H74.8 V37.1 H31.8 A2.6,2.6 0 0 1 29.2,34.5 Z" fill="#f6a723"/><path d="M74.8,33.3 H120.3 V34.5 A2.6,2.6 0 0 1 117.7,37.1 H74.8 Z" fill="#fbc344"/><rect x="81.3" y="25.3" width="32.9" height="4.3" rx="2.1" fill="#fff4cf"/></g><g opacity="0.76"><circle cx="74.8" cy="101.2" r="29.9" fill="#e4c050"/><path d="M74.8,71.30000000000001 A29.9,29.9 0 0 1 74.8,131.1 Z" fill="#fdd988"/><circle cx="74.8" cy="101.2" r="24.7" fill="none" stroke="#f08a2a" stroke-width="1.2"/><circle cx="74.8" cy="101.2" r="20.5" fill="#ec7d2c"/><path d="M74.8,80.7 A20.5,20.5 0 0 1 74.8,121.7 Z" fill="#f59c27"/></g><polygon points="74.80,86.10 78.68,96.46 89.73,96.95 81.08,103.84 84.03,114.50 74.80,108.40 65.57,114.50 68.52,103.84 59.87,96.95 70.92,96.46" fill="#ecd0b8" opacity="0.95"/><path d="M29.2,71.3 C29.98,78.7 31.8,80.52 39.2,81.3 C31.8,82.08 29.98,83.89999999999999 29.2,91.3 C28.419999999999998,83.89999999999999 26.599999999999998,82.08 19.2,81.3 C26.599999999999998,80.52 28.419999999999998,78.7 29.2,71.3 Z" fill="#a3aa7c" opacity="0.9" stroke="#a3aa7c" stroke-width="1.3" stroke-linejoin="round"/><path d="M118,85.6 C118.585,91.14999999999999 119.95,92.515 125.5,93.1 C119.95,93.68499999999999 118.585,95.05 118,100.6 C117.415,95.05 116.05,93.68499999999999 110.5,93.1 C116.05,92.515 117.415,91.14999999999999 118,85.6 Z" fill="#a3aa7c" opacity="0.9" stroke="#a3aa7c" stroke-width="1.3" stroke-linejoin="round"/><path d="M105.7,100.3 C106.441,107.33 108.17,109.059 115.2,109.8 C108.17,110.541 106.441,112.27 105.7,119.3 C104.959,112.27 103.23,110.541 96.2,109.8 C103.23,109.059 104.959,107.33 105.7,100.3 Z" fill="#a6c8e0" opacity="0.85" stroke="#a6c8e0" stroke-width="1.3" stroke-linejoin="round"/></svg>
<span class="t" style="left:1498.8px;top:3591.9px;font-size:16px;line-height:16px;color:#eef3f8;transform:scaleX(1.1365);-webkit-text-stroke:0.18px #eef3f8;">Оформлена подписка</span>
<div style="position:absolute;left:1769.2px;top:3251.5px;width:274.5px;height:433.6px;box-sizing:border-box;border:1px solid rgba(58,156,200,0.9);border-radius:13px;background:linear-gradient(87deg,#2c7698 0%,#256488 25%,#1b486c 50%,#112d53 75%,#08173d 100%);box-shadow:0 8px 22px rgba(0,0,0,0.45);"></div>
<span class="t" style="left:1862.0px;top:3308.8px;font-size:19.8px;line-height:19.8px;font-weight:bold;color:#f3f6fa;transform:scaleX(1.1116);">Награда</span>
<svg style="position:absolute;left:2005.0px;top:3271.1px;" width="19.5" height="19.5" viewBox="0 0 19.5 19.5"><path d="M1,1L18.5,18.5M18.5,1L1,18.5" stroke="#2f9fd0" stroke-width="1.5" stroke-linecap="round"/></svg>
<span class="t" style="left:1821.1px;top:3348.5px;font-size:15.7px;line-height:15.7px;color:#eef3f8;transform:scaleX(1.1716);-webkit-text-stroke:0.17px #eef3f8;">Для получения этой</span>
<span class="t" style="left:1822.6px;top:3368.6px;font-size:15.7px;line-height:15.7px;color:#eef3f8;transform:scaleX(1.1638);-webkit-text-stroke:0.17px #eef3f8;">награды Вам нужно</span>
<span class="t" style="left:1794.6px;top:3388.6px;font-size:15.7px;line-height:15.7px;color:#eef3f8;transform:scaleX(1.1594);-webkit-text-stroke:0.17px #eef3f8;">достичь финансовую цель</span>
<svg style="position:absolute;left:1827.2px;top:3429.8px;" width="158.7" height="158.7" viewBox="-5 -5 160 160"><defs><filter id="m36" x="-20%" y="-20%" width="140%" height="140%"><feGaussianBlur stdDeviation="2.6"/></filter></defs><circle cx="75" cy="80" r="71" fill="#000" opacity="0.28" filter="url(#m36)"/><circle cx="75" cy="75" r="75" fill="#2b7a9b"/><g opacity="0.16"><path d="M37.7,37 H112 V68.7 L74.8,92 L37.7,68.7 Z" fill="#8fb6cf"/><path d="M52.9,37 H61.3 V83.5 L52.9,78.2 Z" fill="#a9cbdc"/><rect x="70.4" y="37" width="8.9" height="54" fill="#a9cbdc"/><path d="M88.4,37 H96.8 V78.2 L88.4,83.5 Z" fill="#a9cbdc"/></g><g opacity="0.74"><rect x="29.2" y="24" width="91.1" height="13.1" rx="2.6" fill="#fac340"/><path d="M74.8,24 H117.7 A2.6,2.6 0 0 1 120.3,26.6 V34.5 A2.6,2.6 0 0 1 117.7,37.1 H74.8 Z" fill="#fcd568"/><path d="M29.2,33.3 H74.8 V37.1 H31.8 A2.6,2.6 0 0 1 29.2,34.5 Z" fill="#f6a723"/><path d="M74.8,33.3 H120.3 V34.5 A2.6,2.6 0 0 1 117.7,37.1 H74.8 Z" fill="#fbc344"/><rect x="81.3" y="25.3" width="32.9" height="4.3" rx="2.1" fill="#fff4cf"/></g><g opacity="0.76"><circle cx="74.8" cy="101.2" r="29.9" fill="#e4c050"/><path d="M74.8,71.30000000000001 A29.9,29.9 0 0 1 74.8,131.1 Z" fill="#fdd988"/><circle cx="74.8" cy="101.2" r="24.7" fill="none" stroke="#f08a2a" stroke-width="1.2"/><circle cx="74.8" cy="101.2" r="20.5" fill="#ec7d2c"/><path d="M74.8,80.7 A20.5,20.5 0 0 1 74.8,121.7 Z" fill="#f59c27"/></g><polygon points="74.80,86.10 78.68,96.46 89.73,96.95 81.08,103.84 84.03,114.50 74.80,108.40 65.57,114.50 68.52,103.84 59.87,96.95 70.92,96.46" fill="#ecd0b8" opacity="0.95"/><path d="M29.2,71.3 C29.98,78.7 31.8,80.52 39.2,81.3 C31.8,82.08 29.98,83.89999999999999 29.2,91.3 C28.419999999999998,83.89999999999999 26.599999999999998,82.08 19.2,81.3 C26.599999999999998,80.52 28.419999999999998,78.7 29.2,71.3 Z" fill="#a3aa7c" opacity="0.9" stroke="#a3aa7c" stroke-width="1.3" stroke-linejoin="round"/><path d="M118,85.6 C118.585,91.14999999999999 119.95,92.515 125.5,93.1 C119.95,93.68499999999999 118.585,95.05 118,100.6 C117.415,95.05 116.05,93.68499999999999 110.5,93.1 C116.05,92.515 117.415,91.14999999999999 118,85.6 Z" fill="#a3aa7c" opacity="0.9" stroke="#a3aa7c" stroke-width="1.3" stroke-linejoin="round"/><path d="M105.7,100.3 C106.441,107.33 108.17,109.059 115.2,109.8 C108.17,110.541 106.441,112.27 105.7,119.3 C104.959,112.27 103.23,110.541 96.2,109.8 C103.23,109.059 104.959,107.33 105.7,100.3 Z" fill="#a6c8e0" opacity="0.85" stroke="#a6c8e0" stroke-width="1.3" stroke-linejoin="round"/></svg>
<span class="t" style="left:1836.9px;top:3591.9px;font-size:16px;line-height:16px;color:#eef3f8;transform:scaleX(1.1284);-webkit-text-stroke:0.18px #eef3f8;">Цель достигнута</span>
<div style="position:absolute;left:2084.2px;top:3251.5px;width:274.5px;height:433.6px;box-sizing:border-box;border:1px solid rgba(58,156,200,0.9);border-radius:13px;background:linear-gradient(87deg,#2c7698 0%,#256488 25%,#1b486c 50%,#112d53 75%,#08173d 100%);box-shadow:0 8px 22px rgba(0,0,0,0.45);"></div>
<span class="t" style="left:2177.0px;top:3308.8px;font-size:19.8px;line-height:19.8px;font-weight:bold;color:#f3f6fa;transform:scaleX(1.1116);">Награда</span>
<svg style="position:absolute;left:2319.9px;top:3271.1px;" width="19.5" height="19.5" viewBox="0 0 19.5 19.5"><path d="M1,1L18.5,18.5M18.5,1L1,18.5" stroke="#2f9fd0" stroke-width="1.5" stroke-linecap="round"/></svg>
<span class="t" style="left:2136.1px;top:3348.5px;font-size:15.7px;line-height:15.7px;color:#eef3f8;transform:scaleX(1.1716);-webkit-text-stroke:0.17px #eef3f8;">Для получения этой</span>
<span class="t" style="left:2137.6px;top:3368.6px;font-size:15.7px;line-height:15.7px;color:#eef3f8;transform:scaleX(1.1638);-webkit-text-stroke:0.17px #eef3f8;">награды Вам нужно</span>
<span class="t" style="left:2151.6px;top:3388.6px;font-size:15.7px;line-height:15.7px;color:#eef3f8;transform:scaleX(1.1986);-webkit-text-stroke:0.17px #eef3f8;">погасить кредит</span>
<svg style="position:absolute;left:2142.2px;top:3429.8px;" width="158.7" height="158.7" viewBox="-5 -5 160 160"><defs><filter id="m37" x="-20%" y="-20%" width="140%" height="140%"><feGaussianBlur stdDeviation="2.6"/></filter></defs><circle cx="75" cy="80" r="71" fill="#000" opacity="0.28" filter="url(#m37)"/><circle cx="75" cy="75" r="75" fill="#2b7a9b"/><g opacity="0.16"><path d="M37.7,37 H112 V68.7 L74.8,92 L37.7,68.7 Z" fill="#8fb6cf"/><path d="M52.9,37 H61.3 V83.5 L52.9,78.2 Z" fill="#a9cbdc"/><rect x="70.4" y="37" width="8.9" height="54" fill="#a9cbdc"/><path d="M88.4,37 H96.8 V78.2 L88.4,83.5 Z" fill="#a9cbdc"/></g><g opacity="0.74"><rect x="29.2" y="24" width="91.1" height="13.1" rx="2.6" fill="#fac340"/><path d="M74.8,24 H117.7 A2.6,2.6 0 0 1 120.3,26.6 V34.5 A2.6,2.6 0 0 1 117.7,37.1 H74.8 Z" fill="#fcd568"/><path d="M29.2,33.3 H74.8 V37.1 H31.8 A2.6,2.6 0 0 1 29.2,34.5 Z" fill="#f6a723"/><path d="M74.8,33.3 H120.3 V34.5 A2.6,2.6 0 0 1 117.7,37.1 H74.8 Z" fill="#fbc344"/><rect x="81.3" y="25.3" width="32.9" height="4.3" rx="2.1" fill="#fff4cf"/></g><g opacity="0.76"><circle cx="74.8" cy="101.2" r="29.9" fill="#e4c050"/><path d="M74.8,71.30000000000001 A29.9,29.9 0 0 1 74.8,131.1 Z" fill="#fdd988"/><circle cx="74.8" cy="101.2" r="24.7" fill="none" stroke="#f08a2a" stroke-width="1.2"/><circle cx="74.8" cy="101.2" r="20.5" fill="#ec7d2c"/><path d="M74.8,80.7 A20.5,20.5 0 0 1 74.8,121.7 Z" fill="#f59c27"/></g><polygon points="74.80,86.10 78.68,96.46 89.73,96.95 81.08,103.84 84.03,114.50 74.80,108.40 65.57,114.50 68.52,103.84 59.87,96.95 70.92,96.46" fill="#ecd0b8" opacity="0.95"/><path d="M29.2,71.3 C29.98,78.7 31.8,80.52 39.2,81.3 C31.8,82.08 29.98,83.89999999999999 29.2,91.3 C28.419999999999998,83.89999999999999 26.599999999999998,82.08 19.2,81.3 C26.599999999999998,80.52 28.419999999999998,78.7 29.2,71.3 Z" fill="#a3aa7c" opacity="0.9" stroke="#a3aa7c" stroke-width="1.3" stroke-linejoin="round"/><path d="M118,85.6 C118.585,91.14999999999999 119.95,92.515 125.5,93.1 C119.95,93.68499999999999 118.585,95.05 118,100.6 C117.415,95.05 116.05,93.68499999999999 110.5,93.1 C116.05,92.515 117.415,91.14999999999999 118,85.6 Z" fill="#a3aa7c" opacity="0.9" stroke="#a3aa7c" stroke-width="1.3" stroke-linejoin="round"/><path d="M105.7,100.3 C106.441,107.33 108.17,109.059 115.2,109.8 C108.17,110.541 106.441,112.27 105.7,119.3 C104.959,112.27 103.23,110.541 96.2,109.8 C103.23,109.059 104.959,107.33 105.7,100.3 Z" fill="#a6c8e0" opacity="0.85" stroke="#a6c8e0" stroke-width="1.3" stroke-linejoin="round"/></svg>
<span class="t" style="left:2151.6px;top:3591.9px;font-size:16px;line-height:16px;color:#eef3f8;transform:scaleX(1.1732);-webkit-text-stroke:0.18px #eef3f8;">Кредит погашен</span>
<div style="position:absolute;left:1162.7px;top:3706.5px;width:302.4px;height:118.3px;box-sizing:border-box;border:1px solid rgba(58,156,200,0.9);border-radius:5px;background:linear-gradient(95deg,#2f7d9c 0%,#286d8e 22%,#205779 48%,#163c62 75%,#0f274e 100%);box-shadow:0 6px 18px rgba(0,0,0,0.5);"></div>
<span class="t" style="left:1171.5px;top:3733.1px;font-size:16px;line-height:16px;color:#f3f6fa;transform:scaleX(1.1724);">Здравствуйте!</span>
<span class="t" style="left:1171.5px;top:3754.3px;font-size:16px;line-height:16px;color:#f3f6fa;transform:scaleX(1.2072);">Проконсультируйте,</span>
<span class="t" style="left:1171.5px;top:3775.5px;font-size:16px;line-height:16px;color:#f3f6fa;transform:scaleX(1.1609);">пожалуйста, по тарифам.</span>
<svg style="position:absolute;left:1413.3px;top:3729.9px;" width="19.0" height="19.0" viewBox="0 0 19.0 19.0"><g fill="none" stroke="#8ea2b8" stroke-width="1.4" stroke-linecap="round"><circle cx="9.5" cy="9.5" r="8"/><path d="M5.6,11.4 C7,14.4 12,14.4 13.4,11.4"/></g><circle cx="6.8" cy="7.4" r="1.1" fill="#8ea2b8"/><circle cx="12.2" cy="7.4" r="1.1" fill="#8ea2b8"/></svg>
<svg style="position:absolute;left:1441.0px;top:3728.6px;" width="16.0" height="20.0" viewBox="0 0 16.0 20.0"><g transform="rotate(28 8 10)"><path d="M11.4,5.4 V13.6 A3.4,3.4 0 0 1 4.6,13.6 V4 A2.3,2.3 0 0 1 9.2,4 V12.8 A1.2,1.2 0 0 1 6.8,12.8 V5.6" fill="none" stroke="#8ea2b8" stroke-width="1.1" stroke-linecap="round"/></g></svg>
<svg style="position:absolute;left:1423.4px;top:3783.7px;" width="32.0" height="32.0" viewBox="0 0 32.0 32.0"><circle cx="16" cy="16" r="14.2" fill="none" stroke="#2f9fc4" stroke-width="1.7"/><path d="M16,23.8 V9.8 M9.1,14.7 L16,9.6 L22.9,14.7" fill="none" stroke="#2f9fc4" stroke-width="1.7" stroke-linecap="round" stroke-linejoin="round"/></svg>
</div>
</body></html>
